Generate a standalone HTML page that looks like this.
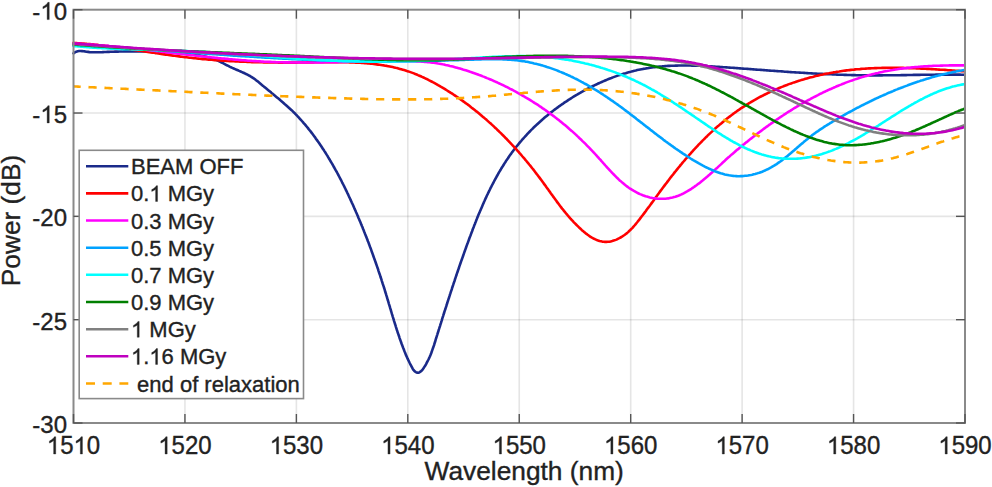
<!DOCTYPE html>
<html><head><meta charset="utf-8"><style>
html,body{margin:0;padding:0;background:#fff;}
body{width:992px;height:487px;overflow:hidden;}
svg{display:block;}
text{font-family:"Liberation Sans",sans-serif;fill:#222;stroke:#222;stroke-width:0.35px;}
.h{fill:none;stroke:none;}
.one{fill:#222;stroke:#222;stroke-width:0.35px;vector-effect:non-scaling-stroke;}
</style></head><body>
<svg width="992" height="487" viewBox="0 0 992 487">
<rect width="992" height="487" fill="#fff"/>
<g stroke="#262626" stroke-opacity="0.12" stroke-width="1.6"><line x1="184.94" y1="9.70" x2="184.94" y2="423.00"/><line x1="296.38" y1="9.70" x2="296.38" y2="423.00"/><line x1="407.81" y1="9.70" x2="407.81" y2="423.00"/><line x1="519.25" y1="9.70" x2="519.25" y2="423.00"/><line x1="630.69" y1="9.70" x2="630.69" y2="423.00"/><line x1="742.12" y1="9.70" x2="742.12" y2="423.00"/><line x1="853.56" y1="9.70" x2="853.56" y2="423.00"/><line x1="73.50" y1="113.03" x2="965.00" y2="113.03"/><line x1="73.50" y1="216.35" x2="965.00" y2="216.35"/><line x1="73.50" y1="319.68" x2="965.00" y2="319.68"/></g>
<g fill="none" stroke-width="2.6" stroke-linejoin="round" stroke-linecap="round">
<path d="M73.5,53.3L74.9,52.4L76.3,51.7L77.7,51.3L79.2,51.0L80.6,51.0L82.1,51.1L83.6,51.2L85.0,51.4L86.5,51.7L88.0,51.9L89.5,52.1L91.0,52.2L92.5,52.3L94.0,52.3L95.5,52.3L97.0,52.3L98.5,52.3L100.0,52.2L101.5,52.2L103.0,52.1L104.5,52.0L106.0,52.0L107.5,51.9L109.0,51.9L110.5,51.8L112.0,51.7L113.5,51.7L115.0,51.6L116.5,51.6L118.0,51.6L119.4,51.5L120.9,51.5L122.4,51.5L123.9,51.4L125.4,51.4L126.9,51.4L128.4,51.4L129.9,51.4L131.4,51.4L132.9,51.4L134.4,51.4L135.9,51.4L137.3,51.4L138.8,51.4L140.3,51.4L141.8,51.4L143.3,51.4L144.8,51.5L146.3,51.5L147.8,51.5L149.3,51.6L150.8,51.6L152.3,51.7L153.8,51.7L155.3,51.8L156.8,51.8L158.3,51.9L159.8,51.9L161.3,52.0L162.8,52.1L164.3,52.2L165.8,52.2L167.3,52.3L168.8,52.4L170.3,52.5L171.8,52.6L173.3,52.7L174.8,52.8L176.3,52.9L177.8,53.1L179.3,53.2L180.8,53.3L182.3,53.4L183.8,53.6L185.4,53.7L186.9,53.9L188.4,54.0L189.9,54.2L191.4,54.3L192.9,54.5L194.4,54.7L195.9,54.9L197.4,55.1L198.9,55.3L200.4,55.6L201.9,55.9L203.4,56.2L204.9,56.5L206.3,56.8L207.8,57.2L209.2,57.6L210.7,58.0L212.1,58.4L213.5,58.9L214.9,59.4L216.3,60.0L217.6,60.5L219.0,61.2L220.3,61.8L221.6,62.5L223.0,63.2L224.3,63.9L225.6,64.6L226.9,65.3L228.3,65.9L229.6,66.6L231.0,67.3L232.3,67.9L233.7,68.5L235.1,69.1L236.5,69.7L237.9,70.3L239.2,70.9L240.6,71.5L242.0,72.1L243.4,72.7L244.7,73.3L246.1,74.0L247.4,74.6L248.7,75.3L250.0,76.0L251.3,76.8L252.5,77.6L253.7,78.4L255.0,79.3L256.1,80.2L257.3,81.1L258.5,82.1L259.6,83.0L260.8,84.0L261.9,84.9L263.1,85.9L264.2,86.9L265.4,87.8L266.6,88.8L267.7,89.7L268.9,90.7L270.0,91.6L271.2,92.6L272.3,93.6L273.5,94.5L274.7,95.5L275.8,96.4L277.0,97.4L278.1,98.3L279.3,99.3L280.4,100.3L281.5,101.2L282.7,102.2L283.8,103.2L284.9,104.2L286.1,105.2L287.2,106.2L288.3,107.2L289.4,108.2L290.5,109.2L291.6,110.2L292.6,111.2L293.7,112.3L294.8,113.3L295.8,114.4L296.9,115.5L297.9,116.6L298.9,117.7L299.9,118.8L300.9,119.9L301.9,121.0L302.9,122.1L303.9,123.3L304.9,124.4L305.9,125.6L306.8,126.7L307.8,127.9L308.7,129.1L309.6,130.2L310.6,131.4L311.5,132.6L312.4,133.8L313.3,135.0L314.2,136.2L315.1,137.4L315.9,138.7L316.8,139.9L317.7,141.1L318.5,142.3L319.4,143.6L320.2,144.8L321.1,146.1L321.9,147.3L322.7,148.6L323.6,149.8L324.4,151.1L325.2,152.3L326.0,153.6L326.8,154.9L327.6,156.1L328.3,157.4L329.1,158.7L329.9,160.0L330.6,161.3L331.4,162.6L332.2,163.9L332.9,165.2L333.6,166.5L334.4,167.8L335.1,169.1L335.8,170.4L336.6,171.7L337.3,173.0L338.0,174.3L338.7,175.7L339.4,177.0L340.1,178.3L340.8,179.6L341.5,181.0L342.1,182.3L342.8,183.7L343.5,185.0L344.2,186.3L344.8,187.7L345.5,189.0L346.1,190.4L346.8,191.7L347.4,193.1L348.1,194.4L348.7,195.8L349.3,197.1L350.0,198.5L350.6,199.9L351.2,201.2L351.8,202.6L352.5,204.0L353.1,205.3L353.7,206.7L354.3,208.1L354.9,209.4L355.5,210.8L356.1,212.2L356.7,213.5L357.3,214.9L357.9,216.3L358.4,217.7L359.0,219.0L359.6,220.4L360.2,221.8L360.8,223.2L361.3,224.6L361.9,226.0L362.5,227.3L363.0,228.7L363.6,230.1L364.1,231.5L364.7,232.9L365.2,234.3L365.8,235.7L366.3,237.1L366.9,238.5L367.4,239.8L367.9,241.2L368.5,242.6L369.0,244.0L369.5,245.4L370.0,246.8L370.6,248.2L371.1,249.6L371.6,251.1L372.1,252.5L372.6,253.9L373.1,255.3L373.6,256.7L374.1,258.1L374.6,259.5L375.1,260.9L375.6,262.3L376.1,263.7L376.6,265.2L377.1,266.6L377.6,268.0L378.1,269.4L378.5,270.8L379.0,272.3L379.5,273.7L380.0,275.1L380.4,276.5L380.9,278.0L381.4,279.4L381.8,280.8L382.3,282.3L382.7,283.7L383.2,285.1L383.7,286.6L384.1,288.0L384.6,289.4L385.0,290.9L385.4,292.3L385.9,293.7L386.3,295.2L386.8,296.6L387.2,298.1L387.6,299.5L388.1,301.0L388.5,302.4L388.9,303.8L389.4,305.3L389.8,306.7L390.2,308.2L390.7,309.6L391.1,311.1L391.5,312.5L391.9,313.9L392.4,315.4L392.8,316.8L393.3,318.3L393.7,319.7L394.1,321.1L394.6,322.6L395.0,324.0L395.5,325.4L395.9,326.8L396.4,328.3L396.8,329.7L397.3,331.1L397.7,332.5L398.2,333.9L398.7,335.3L399.2,336.7L399.6,338.1L400.1,339.5L400.6,340.9L401.1,342.3L401.6,343.7L402.1,345.0L402.6,346.4L403.1,347.8L403.7,349.1L404.2,350.5L404.7,351.8L405.3,353.2L405.8,354.6L406.4,355.9L407.0,357.3L407.6,358.7L408.3,360.1L409.0,361.5L409.7,363.0L410.4,364.4L411.2,365.9L412.0,367.4L412.8,368.9L413.7,370.2L414.7,371.3L415.8,372.1L416.9,372.6L418.1,372.7L419.3,372.4L420.4,371.7L421.5,370.8L422.6,369.6L423.5,368.3L424.4,366.9L425.3,365.5L426.1,364.1L426.8,362.7L427.5,361.3L428.2,360.0L428.9,358.6L429.5,357.3L430.1,355.9L430.7,354.5L431.2,353.2L431.7,351.8L432.2,350.4L432.7,348.9L433.2,347.5L433.7,346.1L434.2,344.7L434.6,343.2L435.1,341.8L435.5,340.4L435.9,338.9L436.4,337.5L436.8,336.1L437.3,334.6L437.7,333.2L438.2,331.8L438.6,330.3L439.1,328.9L439.5,327.5L440.0,326.1L440.4,324.6L440.9,323.2L441.3,321.8L441.8,320.4L442.2,318.9L442.6,317.5L443.1,316.1L443.5,314.7L444.0,313.3L444.4,311.8L444.9,310.4L445.4,309.0L445.8,307.6L446.3,306.2L446.7,304.7L447.2,303.3L447.6,301.9L448.1,300.5L448.5,299.1L449.0,297.7L449.5,296.2L449.9,294.8L450.4,293.4L450.8,292.0L451.3,290.6L451.8,289.2L452.2,287.7L452.7,286.3L453.2,284.9L453.6,283.5L454.1,282.1L454.6,280.7L455.0,279.3L455.5,277.9L456.0,276.4L456.5,275.0L456.9,273.6L457.4,272.2L457.9,270.8L458.4,269.4L458.9,268.0L459.3,266.6L459.8,265.1L460.3,263.7L460.8,262.3L461.3,260.9L461.8,259.5L462.3,258.1L462.8,256.7L463.3,255.3L463.8,253.9L464.3,252.4L464.8,251.0L465.3,249.6L465.8,248.2L466.3,246.8L466.8,245.4L467.3,244.0L467.9,242.5L468.4,241.1L468.9,239.7L469.4,238.3L469.9,236.9L470.5,235.5L471.0,234.1L471.5,232.7L472.1,231.2L472.6,229.8L473.1,228.4L473.7,227.0L474.2,225.6L474.8,224.2L475.3,222.8L475.9,221.4L476.4,220.0L477.0,218.6L477.6,217.1L478.1,215.7L478.7,214.3L479.3,212.9L479.9,211.6L480.5,210.2L481.1,208.8L481.7,207.4L482.3,206.0L482.9,204.6L483.5,203.2L484.1,201.8L484.7,200.5L485.3,199.1L486.0,197.7L486.6,196.3L487.2,195.0L487.9,193.6L488.5,192.3L489.2,190.9L489.9,189.5L490.5,188.2L491.2,186.9L491.9,185.5L492.6,184.2L493.3,182.8L494.0,181.5L494.7,180.2L495.4,178.9L496.1,177.6L496.8,176.3L497.6,175.0L498.3,173.7L499.0,172.4L499.8,171.1L500.6,169.8L501.3,168.5L502.1,167.2L502.9,166.0L503.7,164.7L504.5,163.4L505.3,162.2L506.1,160.9L506.9,159.7L507.8,158.5L508.6,157.2L509.4,156.0L510.3,154.8L511.2,153.6L512.0,152.4L512.9,151.2L513.8,150.0L514.7,148.9L515.6,147.7L516.5,146.5L517.5,145.4L518.4,144.2L519.3,143.1L520.3,141.9L521.3,140.8L522.2,139.7L523.2,138.6L524.2,137.5L525.2,136.4L526.2,135.3L527.2,134.2L528.2,133.1L529.3,132.0L530.3,131.0L531.3,129.9L532.4,128.9L533.4,127.8L534.5,126.8L535.6,125.8L536.7,124.7L537.8,123.7L538.9,122.7L540.0,121.7L541.1,120.7L542.2,119.7L543.3,118.8L544.4,117.8L545.6,116.8L546.7,115.9L547.9,114.9L549.1,114.0L550.2,113.1L551.4,112.1L552.6,111.2L553.8,110.3L555.0,109.4L556.2,108.5L557.4,107.6L558.6,106.7L559.8,105.9L561.0,105.0L562.3,104.1L563.5,103.3L564.7,102.4L566.0,101.6L567.2,100.8L568.5,99.9L569.8,99.1L571.0,98.3L572.3,97.5L573.6,96.7L574.9,95.9L576.2,95.1L577.5,94.4L578.8,93.6L580.1,92.9L581.4,92.1L582.7,91.4L584.1,90.6L585.4,89.9L586.7,89.2L588.1,88.5L589.4,87.8L590.7,87.1L592.1,86.4L593.5,85.8L594.8,85.1L596.2,84.5L597.6,83.8L598.9,83.2L600.3,82.6L601.7,82.0L603.1,81.4L604.5,80.8L605.8,80.2L607.2,79.6L608.6,79.0L610.0,78.5L611.4,78.0L612.9,77.4L614.3,76.9L615.7,76.4L617.1,75.9L618.5,75.4L620.0,74.9L621.4,74.5L622.8,74.0L624.2,73.6L625.7,73.2L627.1,72.7L628.6,72.3L630.0,71.9L631.4,71.6L632.9,71.2L634.3,70.8L635.8,70.5L637.2,70.1L638.7,69.8L640.2,69.5L641.6,69.2L643.1,68.9L644.5,68.7L646.0,68.4L647.5,68.2L648.9,67.9L650.4,67.7L651.9,67.5L653.3,67.3L654.8,67.1L656.3,67.0L657.8,66.8L659.2,66.6L660.7,66.5L662.2,66.4L663.7,66.2L665.2,66.1L666.6,66.0L668.1,65.9L669.6,65.9L671.1,65.8L672.6,65.7L674.1,65.7L675.6,65.6L677.1,65.6L678.6,65.5L680.0,65.5L681.5,65.5L683.0,65.5L684.5,65.5L686.0,65.5L687.5,65.5L689.0,65.5L690.5,65.5L692.0,65.6L693.5,65.6L695.0,65.6L696.5,65.7L698.0,65.7L699.5,65.8L701.0,65.9L702.5,65.9L704.0,66.0L705.5,66.1L707.0,66.1L708.5,66.2L710.0,66.3L711.5,66.4L713.0,66.5L714.5,66.6L716.0,66.7L717.5,66.8L719.0,66.9L720.5,67.0L722.0,67.1L723.5,67.2L725.0,67.3L726.5,67.4L728.0,67.5L729.5,67.6L731.0,67.7L732.5,67.8L734.0,67.9L735.5,68.0L737.0,68.1L738.5,68.3L740.0,68.4L741.5,68.5L743.0,68.6L744.5,68.7L746.0,68.8L747.5,68.9L749.0,69.0L750.4,69.1L751.9,69.3L753.4,69.4L754.9,69.5L756.4,69.6L757.9,69.7L759.4,69.8L760.9,69.9L762.4,70.0L763.9,70.1L765.4,70.3L766.9,70.4L768.4,70.5L769.9,70.6L771.4,70.7L772.9,70.8L774.4,70.9L775.8,71.0L777.3,71.1L778.8,71.2L780.3,71.3L781.8,71.4L783.3,71.5L784.8,71.7L786.3,71.8L787.8,71.9L789.3,72.0L790.8,72.1L792.3,72.2L793.8,72.3L795.2,72.4L796.7,72.5L798.2,72.5L799.7,72.6L801.2,72.7L802.7,72.8L804.2,72.9L805.7,73.0L807.2,73.1L808.7,73.2L810.2,73.3L811.7,73.4L813.2,73.5L814.6,73.5L816.1,73.6L817.6,73.7L819.1,73.8L820.6,73.9L822.1,73.9L823.6,74.0L825.1,74.1L826.6,74.1L828.1,74.2L829.6,74.3L831.1,74.3L832.6,74.4L834.1,74.5L835.6,74.5L837.0,74.6L838.5,74.7L840.0,74.7L841.5,74.8L843.0,74.8L844.5,74.9L846.0,74.9L847.5,75.0L849.0,75.0L850.5,75.0L852.0,75.1L853.5,75.1L855.0,75.1L856.5,75.2L858.0,75.2L859.5,75.2L861.0,75.3L862.5,75.3L864.0,75.3L865.5,75.3L867.0,75.3L868.5,75.3L870.0,75.4L871.5,75.4L873.0,75.4L874.5,75.4L876.0,75.4L877.5,75.4L879.0,75.4L880.5,75.4L882.0,75.4L883.5,75.3L885.0,75.3L886.5,75.3L888.0,75.3L889.5,75.3L891.0,75.3L892.5,75.3L894.0,75.2L895.5,75.2L897.0,75.2L898.5,75.2L900.0,75.2L901.5,75.1L903.1,75.1L904.6,75.1L906.1,75.1L907.6,75.0L909.1,75.0L910.6,75.0L912.1,75.0L913.6,74.9L915.1,74.9L916.6,74.9L918.1,74.9L919.6,74.9L921.1,74.8L922.6,74.8L924.1,74.8L925.6,74.8L927.1,74.7L928.6,74.7L930.1,74.7L931.6,74.7L933.1,74.7L934.6,74.7L936.1,74.6L937.6,74.6L939.1,74.6L940.6,74.6L942.1,74.6L943.6,74.6L945.1,74.6L946.6,74.6L948.1,74.6L949.6,74.6L951.1,74.6L952.6,74.6L954.1,74.6L955.5,74.6L957.0,74.6L958.5,74.6L960.0,74.6L961.5,74.7L963.0,74.7L964.5,74.7" stroke="#1a2a8a"/>
<path d="M73.5,42.9L75.0,43.0L76.5,43.1L77.9,43.2L79.4,43.3L80.9,43.4L82.4,43.5L83.9,43.6L85.4,43.7L86.8,43.9L88.3,44.0L89.8,44.1L91.3,44.3L92.8,44.4L94.3,44.6L95.7,44.7L97.2,44.9L98.7,45.1L100.2,45.2L101.7,45.4L103.2,45.6L104.7,45.8L106.2,46.0L107.6,46.1L109.1,46.3L110.6,46.5L112.1,46.7L113.6,46.9L115.1,47.1L116.6,47.3L118.0,47.5L119.5,47.7L121.0,47.9L122.5,48.2L124.0,48.4L125.5,48.6L127.0,48.8L128.5,49.0L130.0,49.2L131.4,49.5L132.9,49.7L134.4,49.9L135.9,50.1L137.4,50.4L138.9,50.6L140.4,50.8L141.9,51.0L143.4,51.3L144.8,51.5L146.3,51.7L147.8,51.9L149.3,52.2L150.8,52.4L152.3,52.6L153.8,52.8L155.3,53.1L156.7,53.3L158.2,53.5L159.7,53.7L161.2,53.9L162.7,54.2L164.2,54.4L165.7,54.6L167.2,54.8L168.6,55.0L170.1,55.2L171.6,55.4L173.1,55.6L174.6,55.8L176.1,56.0L177.6,56.2L179.1,56.4L180.5,56.6L182.0,56.8L183.5,57.0L185.0,57.2L186.5,57.3L188.0,57.5L189.4,57.7L190.9,57.8L192.4,58.0L193.9,58.2L195.4,58.3L196.9,58.5L198.3,58.6L199.8,58.8L201.3,58.9L202.8,59.1L204.3,59.2L205.8,59.3L207.2,59.5L208.7,59.6L210.2,59.7L211.7,59.8L213.2,59.9L214.7,60.1L216.1,60.2L217.6,60.3L219.1,60.4L220.6,60.5L222.1,60.6L223.6,60.7L225.0,60.8L226.5,60.9L228.0,61.0L229.5,61.1L231.0,61.1L232.5,61.2L233.9,61.3L235.4,61.4L236.9,61.5L238.4,61.5L239.9,61.6L241.4,61.7L242.9,61.7L244.3,61.8L245.8,61.8L247.3,61.9L248.8,62.0L250.3,62.0L251.8,62.1L253.3,62.1L254.8,62.1L256.3,62.2L257.7,62.2L259.2,62.3L260.7,62.3L262.2,62.3L263.7,62.4L265.2,62.4L266.7,62.4L268.2,62.4L269.7,62.5L271.2,62.5L272.7,62.5L274.2,62.5L275.7,62.5L277.2,62.5L278.7,62.6L280.2,62.6L281.7,62.6L283.2,62.6L284.7,62.6L286.2,62.6L287.7,62.6L289.2,62.6L290.7,62.6L292.2,62.6L293.7,62.6L295.2,62.6L296.7,62.6L298.2,62.5L299.7,62.5L301.2,62.5L302.8,62.5L304.3,62.5L305.8,62.5L307.3,62.4L308.8,62.4L310.3,62.4L311.8,62.4L313.4,62.4L314.9,62.3L316.4,62.3L317.9,62.3L319.4,62.3L320.9,62.2L322.5,62.2L324.0,62.2L325.5,62.2L327.0,62.2L328.5,62.2L330.1,62.2L331.6,62.1L333.1,62.1L334.6,62.1L336.1,62.1L337.7,62.1L339.2,62.2L340.7,62.2L342.2,62.2L343.7,62.2L345.2,62.2L346.7,62.3L348.2,62.3L349.8,62.4L351.3,62.4L352.8,62.5L354.3,62.5L355.8,62.6L357.3,62.7L358.8,62.7L360.3,62.8L361.8,62.9L363.3,63.0L364.8,63.1L366.3,63.3L367.8,63.4L369.2,63.5L370.7,63.7L372.2,63.8L373.7,64.0L375.2,64.2L376.6,64.4L378.1,64.6L379.6,64.8L381.1,65.0L382.5,65.2L384.0,65.4L385.4,65.7L386.9,65.9L388.3,66.2L389.8,66.5L391.2,66.8L392.7,67.1L394.1,67.4L395.6,67.8L397.0,68.1L398.4,68.5L399.9,68.9L401.3,69.3L402.7,69.7L404.1,70.1L405.5,70.5L406.9,71.0L408.3,71.4L409.7,71.9L411.1,72.4L412.5,72.9L413.9,73.4L415.3,74.0L416.7,74.5L418.0,75.1L419.4,75.7L420.8,76.3L422.1,76.9L423.5,77.5L424.8,78.1L426.2,78.8L427.5,79.4L428.8,80.1L430.2,80.8L431.5,81.5L432.8,82.2L434.2,82.9L435.5,83.6L436.8,84.3L438.1,85.1L439.4,85.8L440.7,86.6L442.0,87.3L443.3,88.1L444.6,88.9L445.8,89.7L447.1,90.5L448.4,91.3L449.7,92.1L450.9,92.9L452.2,93.7L453.4,94.5L454.7,95.4L455.9,96.2L457.2,97.0L458.4,97.9L459.7,98.7L460.9,99.6L462.1,100.5L463.3,101.4L464.5,102.2L465.7,103.1L467.0,104.0L468.2,104.9L469.4,105.8L470.5,106.7L471.7,107.7L472.9,108.6L474.1,109.5L475.3,110.5L476.4,111.4L477.6,112.3L478.8,113.3L479.9,114.2L481.1,115.2L482.2,116.2L483.4,117.2L484.5,118.1L485.6,119.1L486.8,120.1L487.9,121.1L489.0,122.1L490.1,123.1L491.3,124.1L492.4,125.1L493.5,126.1L494.6,127.2L495.7,128.2L496.7,129.2L497.8,130.3L498.9,131.3L500.0,132.4L501.1,133.4L502.1,134.5L503.2,135.5L504.3,136.6L505.3,137.7L506.4,138.7L507.4,139.8L508.4,140.9L509.5,142.0L510.5,143.1L511.5,144.2L512.6,145.3L513.6,146.4L514.6,147.5L515.6,148.6L516.6,149.7L517.6,150.8L518.6,151.9L519.6,153.1L520.6,154.2L521.5,155.3L522.5,156.5L523.5,157.6L524.5,158.7L525.4,159.9L526.4,161.0L527.3,162.2L528.3,163.3L529.2,164.5L530.2,165.6L531.1,166.8L532.0,168.0L533.0,169.1L533.9,170.3L534.8,171.5L535.7,172.7L536.6,173.9L537.5,175.0L538.4,176.2L539.3,177.4L540.2,178.6L541.1,179.8L542.0,181.0L542.9,182.2L543.7,183.4L544.6,184.6L545.5,185.8L546.3,187.0L547.2,188.2L548.1,189.4L548.9,190.6L549.8,191.8L550.6,193.0L551.5,194.2L552.4,195.4L553.2,196.6L554.1,197.8L555.0,199.0L555.9,200.2L556.7,201.4L557.6,202.6L558.5,203.8L559.4,205.0L560.3,206.2L561.2,207.4L562.1,208.6L563.1,209.7L564.0,210.9L565.0,212.1L565.9,213.2L566.9,214.4L567.8,215.5L568.8,216.7L569.8,217.8L570.8,219.0L571.9,220.1L572.9,221.2L573.9,222.3L575.0,223.4L576.1,224.5L577.2,225.6L578.3,226.7L579.4,227.8L580.5,228.8L581.7,229.9L582.9,230.9L584.1,232.0L585.3,232.9L586.5,233.9L587.7,234.8L589.0,235.7L590.2,236.6L591.5,237.4L592.8,238.1L594.1,238.8L595.4,239.4L596.8,240.0L598.1,240.5L599.5,241.0L600.8,241.3L602.2,241.6L603.6,241.8L605.0,241.9L606.5,241.9L607.9,241.8L609.3,241.7L610.8,241.4L612.2,241.1L613.7,240.6L615.1,240.1L616.5,239.6L617.9,238.9L619.3,238.2L620.6,237.5L622.0,236.7L623.3,235.8L624.5,235.0L625.8,234.0L627.0,233.1L628.1,232.1L629.2,231.0L630.3,230.0L631.4,228.9L632.5,227.8L633.5,226.6L634.5,225.5L635.5,224.3L636.4,223.2L637.4,222.0L638.3,220.8L639.3,219.6L640.2,218.4L641.1,217.2L642.0,216.0L643.0,214.8L643.9,213.6L644.8,212.4L645.7,211.2L646.5,210.0L647.4,208.8L648.3,207.6L649.2,206.5L650.1,205.3L650.9,204.1L651.8,202.9L652.7,201.7L653.6,200.5L654.4,199.3L655.3,198.1L656.2,196.9L657.0,195.7L657.9,194.5L658.8,193.3L659.6,192.1L660.5,190.9L661.4,189.7L662.3,188.5L663.2,187.3L664.1,186.1L665.0,184.9L665.9,183.7L666.8,182.6L667.7,181.4L668.6,180.2L669.5,179.0L670.4,177.8L671.3,176.6L672.2,175.5L673.2,174.3L674.1,173.1L675.0,171.9L676.0,170.8L676.9,169.6L677.9,168.4L678.8,167.3L679.8,166.1L680.7,164.9L681.7,163.8L682.6,162.6L683.6,161.5L684.6,160.4L685.5,159.2L686.5,158.1L687.5,156.9L688.5,155.8L689.5,154.7L690.5,153.6L691.5,152.4L692.5,151.3L693.5,150.2L694.5,149.1L695.5,148.0L696.6,146.9L697.6,145.8L698.6,144.7L699.7,143.6L700.7,142.6L701.8,141.5L702.8,140.4L703.9,139.4L704.9,138.3L706.0,137.2L707.1,136.2L708.1,135.2L709.2,134.1L710.3,133.1L711.4,132.1L712.5,131.1L713.6,130.0L714.7,129.0L715.8,128.0L716.9,127.1L718.1,126.1L719.2,125.1L720.3,124.1L721.5,123.2L722.6,122.2L723.8,121.2L724.9,120.3L726.1,119.4L727.2,118.4L728.4,117.5L729.6,116.6L730.8,115.7L732.0,114.8L733.1,113.9L734.4,113.0L735.6,112.2L736.8,111.3L738.0,110.4L739.2,109.6L740.4,108.7L741.7,107.9L742.9,107.1L744.2,106.3L745.4,105.5L746.7,104.7L748.0,103.9L749.2,103.1L750.5,102.4L751.8,101.6L753.1,100.8L754.4,100.1L755.7,99.4L757.0,98.6L758.3,97.9L759.6,97.2L760.9,96.5L762.3,95.8L763.6,95.2L764.9,94.5L766.3,93.8L767.6,93.2L769.0,92.5L770.3,91.9L771.7,91.3L773.1,90.7L774.4,90.1L775.8,89.5L777.2,88.9L778.6,88.3L779.9,87.7L781.3,87.1L782.7,86.6L784.1,86.0L785.5,85.5L786.9,85.0L788.3,84.4L789.7,83.9L791.2,83.4L792.6,82.9L794.0,82.4L795.4,82.0L796.8,81.5L798.3,81.0L799.7,80.6L801.1,80.1L802.6,79.7L804.0,79.3L805.5,78.8L806.9,78.4L808.4,78.0L809.8,77.6L811.3,77.2L812.7,76.9L814.2,76.5L815.6,76.1L817.1,75.8L818.6,75.4L820.0,75.1L821.5,74.8L823.0,74.5L824.4,74.1L825.9,73.8L827.4,73.5L828.8,73.3L830.3,73.0L831.8,72.7L833.3,72.4L834.7,72.2L836.2,71.9L837.7,71.7L839.2,71.5L840.7,71.2L842.1,71.0L843.6,70.8L845.1,70.6L846.6,70.4L848.1,70.3L849.5,70.1L851.0,69.9L852.5,69.7L854.0,69.6L855.5,69.4L856.9,69.3L858.4,69.2L859.9,69.1L861.4,68.9L862.9,68.8L864.4,68.7L865.9,68.6L867.3,68.5L868.8,68.4L870.3,68.4L871.8,68.3L873.3,68.2L874.8,68.1L876.3,68.1L877.8,68.0L879.2,68.0L880.7,68.0L882.2,67.9L883.7,67.9L885.2,67.9L886.7,67.8L888.2,67.8L889.7,67.8L891.2,67.8L892.7,67.8L894.2,67.8L895.7,67.8L897.1,67.8L898.6,67.9L900.1,67.9L901.6,67.9L903.1,67.9L904.6,68.0L906.1,68.0L907.6,68.0L909.1,68.1L910.6,68.1L912.1,68.2L913.6,68.2L915.1,68.3L916.6,68.4L918.1,68.4L919.6,68.5L921.1,68.6L922.6,68.6L924.1,68.7L925.5,68.8L927.0,68.9L928.5,68.9L930.0,69.0L931.5,69.1L933.0,69.2L934.5,69.3L936.0,69.4L937.5,69.5L939.0,69.6L940.5,69.7L942.0,69.8L943.5,69.8L945.0,69.9L946.5,70.0L948.0,70.2L949.5,70.3L951.0,70.4L952.5,70.5L954.0,70.6L955.5,70.7L957.0,70.8L958.5,70.9L960.0,71.0L961.5,71.1L963.0,71.2L964.5,71.3" stroke="#ff0000"/>
<path d="M73.5,43.5L75.0,43.6L76.5,43.7L78.0,43.7L79.5,43.8L81.0,43.9L82.5,44.0L84.0,44.1L85.5,44.2L87.0,44.3L88.5,44.4L90.0,44.5L91.5,44.6L92.9,44.7L94.4,44.8L95.9,44.9L97.4,45.1L98.9,45.2L100.4,45.3L101.9,45.4L103.4,45.6L104.9,45.7L106.4,45.8L107.9,45.9L109.4,46.1L110.9,46.2L112.4,46.4L113.9,46.5L115.3,46.6L116.8,46.8L118.3,46.9L119.8,47.1L121.3,47.2L122.8,47.4L124.3,47.5L125.8,47.7L127.3,47.8L128.8,48.0L130.3,48.2L131.8,48.3L133.3,48.5L134.7,48.6L136.2,48.8L137.7,49.0L139.2,49.1L140.7,49.3L142.2,49.5L143.7,49.6L145.2,49.8L146.7,50.0L148.2,50.1L149.7,50.3L151.1,50.5L152.6,50.7L154.1,50.8L155.6,51.0L157.1,51.2L158.6,51.3L160.1,51.5L161.6,51.7L163.1,51.9L164.6,52.0L166.0,52.2L167.5,52.4L169.0,52.6L170.5,52.7L172.0,52.9L173.5,53.1L175.0,53.3L176.5,53.4L178.0,53.6L179.5,53.8L181.0,54.0L182.4,54.1L183.9,54.3L185.4,54.5L186.9,54.7L188.4,54.8L189.9,55.0L191.4,55.2L192.9,55.3L194.4,55.5L195.9,55.7L197.3,55.8L198.8,56.0L200.3,56.2L201.8,56.3L203.3,56.5L204.8,56.7L206.3,56.8L207.8,57.0L209.3,57.1L210.8,57.3L212.3,57.5L213.8,57.6L215.2,57.8L216.7,57.9L218.2,58.1L219.7,58.2L221.2,58.4L222.7,58.5L224.2,58.6L225.7,58.8L227.2,58.9L228.7,59.1L230.2,59.2L231.7,59.3L233.1,59.5L234.6,59.6L236.1,59.7L237.6,59.8L239.1,60.0L240.6,60.1L242.1,60.2L243.6,60.3L245.1,60.4L246.6,60.5L248.1,60.7L249.6,60.8L251.1,60.9L252.6,61.0L254.1,61.1L255.6,61.1L257.1,61.2L258.5,61.3L260.0,61.4L261.5,61.5L263.0,61.6L264.5,61.7L266.0,61.7L267.5,61.8L269.0,61.9L270.5,61.9L272.0,62.0L273.5,62.0L275.0,62.1L276.5,62.2L278.0,62.2L279.5,62.2L281.0,62.3L282.5,62.3L284.0,62.4L285.5,62.4L287.0,62.4L288.5,62.4L290.0,62.5L291.5,62.5L293.0,62.5L294.5,62.5L296.0,62.5L297.5,62.5L299.0,62.5L300.5,62.5L302.0,62.5L303.5,62.5L305.0,62.5L306.5,62.5L308.0,62.5L309.5,62.5L311.0,62.5L312.5,62.5L314.0,62.5L315.5,62.5L317.0,62.4L318.5,62.4L320.0,62.4L321.5,62.4L323.0,62.4L324.5,62.3L326.0,62.3L327.5,62.3L329.0,62.3L330.5,62.2L332.0,62.2L333.5,62.2L335.0,62.1L336.5,62.1L338.0,62.1L339.5,62.0L341.0,62.0L342.5,62.0L344.0,61.9L345.5,61.9L347.0,61.9L348.5,61.8L350.0,61.8L351.5,61.8L353.0,61.7L354.5,61.7L356.0,61.7L357.5,61.6L359.0,61.6L360.5,61.6L362.0,61.5L363.5,61.5L365.0,61.5L366.5,61.4L368.0,61.4L369.5,61.4L371.0,61.3L372.5,61.3L374.0,61.3L375.5,61.3L377.0,61.2L378.5,61.2L380.0,61.2L381.5,61.2L383.0,61.1L384.5,61.1L386.0,61.1L387.5,61.1L389.0,61.1L390.5,61.1L392.0,61.1L393.5,61.1L395.0,61.1L396.5,61.1L398.0,61.1L399.5,61.1L401.0,61.1L402.5,61.1L404.0,61.1L405.5,61.1L407.0,61.1L408.5,61.1L410.0,61.2L411.4,61.2L412.9,61.2L414.4,61.3L415.9,61.3L417.4,61.4L418.9,61.5L420.4,61.5L421.9,61.6L423.4,61.7L424.8,61.9L426.3,62.0L427.8,62.1L429.3,62.3L430.8,62.4L432.3,62.6L433.7,62.8L435.2,63.0L436.7,63.2L438.2,63.5L439.6,63.7L441.1,64.0L442.6,64.3L444.0,64.5L445.5,64.9L447.0,65.2L448.4,65.5L449.9,65.9L451.3,66.2L452.8,66.6L454.2,67.0L455.7,67.4L457.1,67.8L458.6,68.2L460.0,68.6L461.5,69.0L462.9,69.5L464.4,69.9L465.8,70.3L467.2,70.8L468.7,71.3L470.1,71.8L471.5,72.2L472.9,72.7L474.4,73.2L475.8,73.7L477.2,74.2L478.6,74.8L480.0,75.3L481.4,75.8L482.8,76.4L484.2,76.9L485.6,77.5L487.0,78.1L488.4,78.6L489.8,79.2L491.2,79.8L492.6,80.4L493.9,81.0L495.3,81.6L496.7,82.2L498.1,82.9L499.4,83.5L500.8,84.1L502.2,84.8L503.5,85.4L504.9,86.1L506.2,86.8L507.6,87.4L508.9,88.1L510.2,88.8L511.6,89.5L512.9,90.2L514.2,90.9L515.6,91.6L516.9,92.3L518.2,93.1L519.5,93.8L520.8,94.5L522.1,95.3L523.4,96.0L524.7,96.8L526.0,97.6L527.3,98.3L528.6,99.1L529.9,99.9L531.1,100.7L532.4,101.5L533.7,102.3L534.9,103.1L536.2,103.9L537.5,104.7L538.7,105.5L539.9,106.4L541.2,107.2L542.4,108.1L543.6,108.9L544.9,109.8L546.1,110.6L547.3,111.5L548.5,112.4L549.7,113.2L550.9,114.1L552.1,115.0L553.3,115.9L554.5,116.8L555.7,117.7L556.8,118.6L558.0,119.5L559.2,120.4L560.3,121.4L561.5,122.3L562.6,123.2L563.8,124.2L564.9,125.1L566.1,126.1L567.2,127.0L568.3,128.0L569.4,129.0L570.5,129.9L571.7,130.9L572.8,131.9L573.9,132.9L575.0,133.9L576.1,134.9L577.1,135.9L578.2,136.9L579.3,138.0L580.4,139.0L581.5,140.0L582.5,141.1L583.6,142.1L584.7,143.2L585.7,144.2L586.8,145.3L587.8,146.3L588.9,147.4L589.9,148.5L591.0,149.6L592.0,150.7L593.1,151.8L594.1,152.9L595.1,154.0L596.2,155.2L597.2,156.3L598.2,157.4L599.2,158.6L600.3,159.7L601.3,160.9L602.3,162.0L603.3,163.2L604.4,164.3L605.4,165.5L606.4,166.6L607.5,167.8L608.5,168.9L609.6,170.1L610.6,171.2L611.7,172.3L612.7,173.4L613.8,174.5L614.9,175.6L615.9,176.7L617.0,177.8L618.1,178.8L619.2,179.9L620.4,180.9L621.5,181.9L622.6,182.9L623.8,183.8L624.9,184.8L626.1,185.7L627.3,186.6L628.5,187.5L629.7,188.3L631.0,189.1L632.2,189.9L633.5,190.7L634.8,191.4L636.1,192.1L637.4,192.8L638.7,193.5L640.0,194.1L641.4,194.6L642.8,195.2L644.2,195.7L645.5,196.2L646.9,196.6L648.4,197.0L649.8,197.4L651.2,197.7L652.6,198.0L654.0,198.2L655.5,198.4L656.9,198.6L658.4,198.7L659.8,198.8L661.2,198.8L662.7,198.8L664.1,198.8L665.5,198.7L667.0,198.5L668.4,198.4L669.8,198.1L671.2,197.8L672.6,197.5L674.0,197.1L675.4,196.7L676.8,196.2L678.2,195.7L679.5,195.2L680.9,194.6L682.2,194.0L683.6,193.3L684.9,192.6L686.2,191.9L687.5,191.2L688.8,190.4L690.1,189.6L691.4,188.8L692.7,187.9L694.0,187.0L695.2,186.1L696.5,185.2L697.7,184.3L699.0,183.4L700.2,182.4L701.4,181.4L702.6,180.5L703.8,179.5L705.0,178.5L706.2,177.5L707.4,176.5L708.5,175.5L709.7,174.5L710.8,173.5L712.0,172.5L713.1,171.4L714.2,170.4L715.3,169.4L716.4,168.4L717.6,167.4L718.7,166.4L719.8,165.4L720.9,164.4L722.0,163.3L723.1,162.3L724.2,161.3L725.2,160.3L726.3,159.3L727.4,158.3L728.5,157.3L729.6,156.4L730.7,155.4L731.8,154.4L733.0,153.4L734.1,152.5L735.2,151.5L736.3,150.5L737.4,149.6L738.6,148.7L739.7,147.7L740.9,146.8L742.0,145.8L743.1,144.9L744.3,144.0L745.4,143.0L746.6,142.1L747.8,141.2L748.9,140.2L750.1,139.3L751.3,138.4L752.4,137.5L753.6,136.6L754.8,135.6L756.0,134.7L757.2,133.8L758.4,132.9L759.6,132.0L760.8,131.1L762.0,130.2L763.2,129.3L764.4,128.4L765.6,127.5L766.8,126.6L768.0,125.8L769.2,124.9L770.5,124.0L771.7,123.1L772.9,122.3L774.2,121.4L775.4,120.6L776.6,119.7L777.9,118.9L779.1,118.0L780.4,117.2L781.6,116.3L782.9,115.5L784.1,114.7L785.4,113.9L786.6,113.0L787.9,112.2L789.2,111.4L790.5,110.6L791.7,109.8L793.0,109.0L794.3,108.2L795.6,107.5L796.9,106.7L798.2,105.9L799.4,105.2L800.7,104.4L802.0,103.7L803.3,102.9L804.6,102.2L806.0,101.4L807.3,100.7L808.6,100.0L809.9,99.3L811.2,98.5L812.5,97.8L813.9,97.1L815.2,96.5L816.5,95.8L817.9,95.1L819.2,94.4L820.5,93.7L821.9,93.1L823.2,92.4L824.6,91.8L825.9,91.1L827.3,90.5L828.6,89.9L830.0,89.3L831.4,88.7L832.7,88.1L834.1,87.5L835.5,86.9L836.8,86.3L838.2,85.7L839.6,85.1L841.0,84.6L842.4,84.0L843.8,83.5L845.2,82.9L846.5,82.4L847.9,81.9L849.3,81.4L850.7,80.9L852.2,80.4L853.6,79.9L855.0,79.4L856.4,78.9L857.8,78.5L859.2,78.0L860.7,77.6L862.1,77.1L863.5,76.7L864.9,76.3L866.4,75.9L867.8,75.5L869.3,75.1L870.7,74.7L872.1,74.3L873.6,73.9L875.0,73.6L876.5,73.2L878.0,72.9L879.4,72.5L880.9,72.2L882.3,71.9L883.8,71.6L885.3,71.3L886.8,71.0L888.2,70.7L889.7,70.5L891.2,70.2L892.7,70.0L894.2,69.7L895.6,69.5L897.1,69.3L898.6,69.0L900.1,68.8L901.6,68.6L903.1,68.4L904.6,68.2L906.1,68.1L907.6,67.9L909.1,67.7L910.6,67.6L912.1,67.4L913.6,67.3L915.1,67.1L916.6,67.0L918.1,66.9L919.6,66.7L921.1,66.6L922.6,66.5L924.1,66.4L925.6,66.3L927.1,66.2L928.6,66.1L930.1,66.0L931.6,66.0L933.1,65.9L934.6,65.8L936.2,65.8L937.7,65.7L939.2,65.7L940.7,65.6L942.2,65.6L943.7,65.5L945.2,65.5L946.7,65.5L948.1,65.5L949.6,65.4L951.1,65.4L952.6,65.4L954.1,65.4L955.6,65.4L957.1,65.4L958.6,65.4L960.1,65.4L961.5,65.4L963.0,65.4L964.5,65.4" stroke="#ff00ff"/>
<path d="M73.5,45.5L75.0,45.6L76.5,45.6L78.0,45.7L79.5,45.8L81.0,45.8L82.5,45.9L84.0,45.9L85.5,46.0L87.0,46.1L88.5,46.2L90.0,46.2L91.5,46.3L93.0,46.4L94.4,46.4L95.9,46.5L97.4,46.6L98.9,46.7L100.4,46.7L101.9,46.8L103.4,46.9L104.9,47.0L106.4,47.1L107.9,47.1L109.4,47.2L110.9,47.3L112.4,47.4L113.9,47.5L115.4,47.6L116.9,47.7L118.4,47.7L119.9,47.8L121.4,47.9L122.9,48.0L124.4,48.1L125.9,48.2L127.4,48.3L128.9,48.4L130.4,48.5L131.9,48.6L133.4,48.6L134.9,48.7L136.4,48.8L137.8,48.9L139.3,49.0L140.8,49.1L142.3,49.2L143.8,49.3L145.3,49.4L146.8,49.5L148.3,49.6L149.8,49.7L151.3,49.8L152.8,49.9L154.3,50.0L155.8,50.1L157.3,50.2L158.8,50.3L160.3,50.4L161.8,50.5L163.3,50.6L164.8,50.7L166.3,50.8L167.8,50.9L169.3,51.0L170.8,51.2L172.3,51.3L173.8,51.4L175.3,51.5L176.8,51.6L178.3,51.7L179.8,51.8L181.3,51.9L182.7,52.0L184.2,52.1L185.7,52.2L187.2,52.3L188.7,52.4L190.2,52.5L191.7,52.6L193.2,52.7L194.7,52.8L196.2,52.9L197.7,53.1L199.2,53.2L200.7,53.3L202.2,53.4L203.7,53.5L205.2,53.6L206.7,53.7L208.2,53.8L209.7,53.9L211.2,54.0L212.7,54.1L214.2,54.2L215.7,54.3L217.2,54.4L218.7,54.5L220.2,54.6L221.7,54.7L223.2,54.8L224.7,54.9L226.2,55.0L227.7,55.1L229.2,55.3L230.7,55.4L232.1,55.5L233.6,55.6L235.1,55.7L236.6,55.8L238.1,55.9L239.6,56.0L241.1,56.1L242.6,56.2L244.1,56.3L245.6,56.4L247.1,56.5L248.6,56.5L250.1,56.6L251.6,56.7L253.1,56.8L254.6,56.9L256.1,57.0L257.6,57.1L259.1,57.2L260.6,57.3L262.1,57.4L263.6,57.5L265.1,57.6L266.6,57.7L268.1,57.8L269.6,57.8L271.1,57.9L272.6,58.0L274.1,58.1L275.6,58.2L277.1,58.3L278.6,58.4L280.0,58.4L281.5,58.5L283.0,58.6L284.5,58.7L286.0,58.8L287.5,58.8L289.0,58.9L290.5,59.0L292.0,59.1L293.5,59.1L295.0,59.2L296.5,59.3L298.0,59.4L299.5,59.4L301.0,59.5L302.5,59.6L304.0,59.6L305.5,59.7L307.0,59.8L308.5,59.8L310.0,59.9L311.5,60.0L313.0,60.0L314.5,60.1L316.0,60.1L317.5,60.2L319.0,60.3L320.5,60.3L322.0,60.4L323.5,60.4L325.0,60.5L326.5,60.5L328.0,60.6L329.4,60.6L330.9,60.7L332.4,60.7L333.9,60.7L335.4,60.8L336.9,60.8L338.4,60.9L339.9,60.9L341.4,60.9L342.9,61.0L344.4,61.0L345.9,61.0L347.4,61.1L348.9,61.1L350.4,61.1L351.9,61.2L353.4,61.2L354.9,61.2L356.4,61.2L357.9,61.2L359.4,61.3L360.9,61.3L362.4,61.3L363.9,61.3L365.4,61.3L366.9,61.3L368.4,61.4L369.9,61.4L371.4,61.4L372.9,61.4L374.4,61.4L375.9,61.4L377.3,61.4L378.8,61.4L380.3,61.4L381.8,61.4L383.3,61.4L384.8,61.4L386.3,61.4L387.8,61.4L389.3,61.4L390.8,61.4L392.3,61.3L393.8,61.3L395.3,61.3L396.8,61.3L398.3,61.3L399.8,61.3L401.3,61.3L402.8,61.3L404.3,61.2L405.8,61.2L407.3,61.2L408.8,61.2L410.3,61.2L411.8,61.1L413.3,61.1L414.8,61.1L416.3,61.1L417.8,61.0L419.3,61.0L420.8,61.0L422.3,61.0L423.8,60.9L425.3,60.9L426.8,60.9L428.3,60.8L429.8,60.8L431.3,60.8L432.8,60.7L434.3,60.7L435.8,60.7L437.3,60.6L438.8,60.6L440.3,60.6L441.8,60.5L443.3,60.5L444.8,60.4L446.3,60.4L447.8,60.4L449.3,60.3L450.8,60.3L452.3,60.2L453.8,60.2L455.3,60.1L456.8,60.1L458.3,60.1L459.8,60.0L461.3,60.0L462.8,59.9L464.3,59.9L465.8,59.8L467.3,59.8L468.8,59.7L470.3,59.7L471.8,59.6L473.3,59.6L474.8,59.5L476.3,59.5L477.8,59.5L479.3,59.4L480.8,59.4L482.3,59.3L483.8,59.3L485.3,59.3L486.8,59.2L488.3,59.2L489.8,59.2L491.3,59.2L492.8,59.2L494.3,59.2L495.8,59.2L497.3,59.2L498.8,59.2L500.3,59.3L501.8,59.3L503.3,59.4L504.8,59.4L506.3,59.5L507.8,59.6L509.2,59.7L510.7,59.8L512.2,59.9L513.7,60.0L515.2,60.2L516.6,60.3L518.1,60.5L519.6,60.7L521.0,60.9L522.5,61.1L524.0,61.3L525.4,61.6L526.9,61.8L528.3,62.1L529.8,62.4L531.3,62.7L532.7,63.0L534.1,63.4L535.6,63.7L537.0,64.1L538.5,64.4L539.9,64.8L541.3,65.2L542.8,65.6L544.2,66.1L545.6,66.5L547.0,67.0L548.5,67.4L549.9,67.9L551.3,68.4L552.7,68.9L554.1,69.4L555.5,69.9L556.9,70.4L558.3,71.0L559.7,71.6L561.1,72.1L562.5,72.7L563.9,73.3L565.2,73.9L566.6,74.5L568.0,75.1L569.4,75.7L570.7,76.4L572.1,77.0L573.4,77.7L574.8,78.4L576.2,79.0L577.5,79.7L578.8,80.4L580.2,81.1L581.5,81.8L582.9,82.5L584.2,83.3L585.5,84.0L586.8,84.7L588.1,85.5L589.5,86.3L590.8,87.0L592.1,87.8L593.4,88.6L594.7,89.4L596.0,90.1L597.3,90.9L598.5,91.7L599.8,92.5L601.1,93.4L602.4,94.2L603.6,95.0L604.9,95.8L606.1,96.7L607.4,97.5L608.6,98.4L609.9,99.2L611.1,100.1L612.4,100.9L613.6,101.8L614.8,102.7L616.0,103.5L617.3,104.4L618.5,105.3L619.7,106.2L620.9,107.0L622.1,107.9L623.3,108.8L624.5,109.7L625.7,110.6L626.9,111.5L628.1,112.4L629.3,113.3L630.4,114.2L631.6,115.1L632.8,116.0L634.0,116.9L635.2,117.8L636.3,118.8L637.5,119.7L638.7,120.6L639.9,121.5L641.0,122.4L642.2,123.3L643.4,124.2L644.6,125.2L645.7,126.1L646.9,127.0L648.1,127.9L649.3,128.8L650.4,129.7L651.6,130.6L652.8,131.5L654.0,132.5L655.1,133.4L656.3,134.3L657.5,135.2L658.7,136.1L659.9,137.0L661.1,137.9L662.3,138.8L663.4,139.7L664.6,140.6L665.8,141.5L667.0,142.3L668.2,143.2L669.5,144.1L670.7,145.0L671.9,145.9L673.1,146.7L674.3,147.6L675.5,148.5L676.8,149.3L678.0,150.2L679.3,151.0L680.5,151.9L681.7,152.7L683.0,153.6L684.3,154.4L685.5,155.2L686.8,156.0L688.1,156.8L689.4,157.7L690.6,158.5L691.9,159.3L693.2,160.1L694.5,160.8L695.9,161.6L697.2,162.4L698.5,163.2L699.8,163.9L701.2,164.7L702.5,165.4L703.9,166.1L705.2,166.8L706.6,167.5L708.0,168.1L709.3,168.8L710.7,169.4L712.1,170.0L713.5,170.6L714.9,171.2L716.3,171.7L717.7,172.2L719.1,172.7L720.5,173.2L721.9,173.6L723.4,174.0L724.8,174.4L726.2,174.7L727.6,175.0L729.1,175.3L730.5,175.5L732.0,175.7L733.4,175.9L734.9,176.0L736.3,176.1L737.8,176.2L739.3,176.2L740.7,176.1L742.2,176.1L743.6,176.0L745.1,175.8L746.5,175.7L748.0,175.5L749.4,175.2L750.9,175.0L752.3,174.7L753.7,174.3L755.2,174.0L756.6,173.6L758.0,173.1L759.4,172.7L760.8,172.2L762.2,171.7L763.5,171.1L764.9,170.5L766.2,169.9L767.6,169.3L768.9,168.6L770.2,167.9L771.5,167.2L772.8,166.4L774.1,165.7L775.3,164.9L776.6,164.1L777.8,163.2L779.0,162.4L780.3,161.5L781.5,160.6L782.7,159.7L783.9,158.8L785.1,157.8L786.3,156.9L787.5,155.9L788.6,155.0L789.8,154.0L791.0,153.0L792.1,152.0L793.3,151.0L794.5,150.0L795.6,149.0L796.8,148.0L797.9,147.0L799.1,146.0L800.2,145.0L801.4,144.0L802.6,143.1L803.7,142.1L804.9,141.1L806.0,140.1L807.2,139.2L808.4,138.2L809.6,137.3L810.7,136.4L811.9,135.4L813.1,134.5L814.3,133.7L815.5,132.8L816.7,131.9L818.0,131.1L819.2,130.2L820.4,129.4L821.6,128.6L822.9,127.8L824.1,126.9L825.3,126.1L826.6,125.4L827.8,124.6L829.1,123.8L830.3,123.0L831.6,122.3L832.9,121.5L834.1,120.8L835.4,120.0L836.7,119.3L838.0,118.5L839.2,117.8L840.5,117.0L841.8,116.3L843.1,115.6L844.4,114.9L845.7,114.1L847.0,113.4L848.3,112.7L849.6,112.0L850.9,111.3L852.3,110.6L853.6,109.8L854.9,109.1L856.2,108.4L857.5,107.7L858.9,107.1L860.2,106.4L861.5,105.7L862.9,105.0L864.2,104.3L865.6,103.6L866.9,103.0L868.3,102.3L869.6,101.7L871.0,101.0L872.3,100.3L873.7,99.7L875.0,99.0L876.4,98.4L877.8,97.8L879.1,97.1L880.5,96.5L881.9,95.9L883.3,95.3L884.6,94.7L886.0,94.1L887.4,93.4L888.8,92.8L890.2,92.3L891.6,91.7L893.0,91.1L894.3,90.5L895.7,89.9L897.1,89.4L898.5,88.8L899.9,88.3L901.3,87.7L902.7,87.2L904.2,86.6L905.6,86.1L907.0,85.6L908.4,85.0L909.8,84.5L911.2,84.0L912.6,83.5L914.0,83.0L915.5,82.5L916.9,82.0L918.3,81.6L919.7,81.1L921.2,80.6L922.6,80.2L924.0,79.7L925.5,79.3L926.9,78.8L928.3,78.4L929.8,78.0L931.2,77.5L932.6,77.1L934.1,76.7L935.5,76.3L936.9,75.9L938.4,75.6L939.8,75.2L941.3,74.8L942.7,74.5L944.2,74.1L945.6,73.8L947.1,73.4L948.5,73.1L950.0,72.8L951.4,72.5L952.9,72.1L954.3,71.8L955.8,71.6L957.2,71.3L958.7,71.0L960.1,70.7L961.6,70.5L963.0,70.2L964.5,70.0" stroke="#00a2ff"/>
<path d="M73.5,46.0L75.0,46.1L76.5,46.3L78.0,46.4L79.5,46.5L81.0,46.7L82.5,46.8L84.0,46.9L85.5,47.0L87.0,47.1L88.5,47.3L90.0,47.4L91.5,47.5L93.0,47.6L94.5,47.7L96.0,47.8L97.5,47.9L99.0,47.9L100.5,48.0L102.0,48.1L103.5,48.2L104.9,48.3L106.4,48.3L107.9,48.4L109.4,48.5L110.9,48.6L112.4,48.6L113.9,48.7L115.4,48.8L116.9,48.8L118.4,48.9L119.9,48.9L121.4,49.0L122.9,49.1L124.4,49.1L125.9,49.2L127.4,49.2L128.9,49.3L130.4,49.3L131.9,49.4L133.4,49.4L134.9,49.4L136.4,49.5L137.9,49.5L139.4,49.6L140.9,49.6L142.4,49.7L143.9,49.7L145.4,49.8L146.9,49.8L148.4,49.8L149.9,49.9L151.4,49.9L152.9,50.0L154.4,50.0L155.8,50.0L157.3,50.1L158.8,50.1L160.3,50.2L161.8,50.2L163.3,50.3L164.8,50.3L166.3,50.3L167.8,50.4L169.3,50.4L170.8,50.5L172.3,50.5L173.8,50.6L175.3,50.6L176.8,50.7L178.3,50.7L179.8,50.8L181.3,50.8L182.8,50.9L184.3,51.0L185.8,51.0L187.3,51.1L188.8,51.2L190.3,51.2L191.8,51.3L193.3,51.4L194.8,51.4L196.3,51.5L197.8,51.6L199.3,51.7L200.8,51.7L202.3,51.8L203.8,51.9L205.3,52.0L206.8,52.1L208.2,52.2L209.7,52.3L211.2,52.3L212.7,52.4L214.2,52.5L215.7,52.6L217.2,52.7L218.7,52.8L220.2,52.9L221.7,53.0L223.2,53.1L224.7,53.2L226.2,53.3L227.7,53.4L229.2,53.5L230.7,53.6L232.2,53.8L233.7,53.9L235.2,54.0L236.7,54.1L238.2,54.2L239.7,54.3L241.2,54.4L242.7,54.5L244.2,54.6L245.7,54.7L247.2,54.9L248.7,55.0L250.2,55.1L251.7,55.2L253.2,55.3L254.7,55.4L256.2,55.5L257.7,55.7L259.2,55.8L260.7,55.9L262.2,56.0L263.7,56.1L265.2,56.2L266.6,56.4L268.1,56.5L269.6,56.6L271.1,56.7L272.6,56.8L274.1,56.9L275.6,57.0L277.1,57.2L278.6,57.3L280.1,57.4L281.6,57.5L283.1,57.6L284.6,57.7L286.1,57.8L287.6,57.9L289.1,58.0L290.6,58.1L292.1,58.3L293.6,58.4L295.1,58.5L296.6,58.6L298.1,58.7L299.6,58.8L301.1,58.9L302.6,59.0L304.1,59.1L305.6,59.2L307.1,59.3L308.6,59.4L310.1,59.4L311.6,59.5L313.1,59.6L314.6,59.7L316.0,59.8L317.5,59.9L319.0,60.0L320.5,60.1L322.0,60.1L323.5,60.2L325.0,60.3L326.5,60.4L328.0,60.4L329.5,60.5L331.0,60.6L332.5,60.6L334.0,60.7L335.5,60.8L337.0,60.8L338.5,60.9L340.0,60.9L341.5,61.0L343.0,61.1L344.5,61.1L346.0,61.1L347.5,61.2L349.0,61.2L350.5,61.3L352.0,61.3L353.5,61.3L354.9,61.4L356.4,61.4L357.9,61.4L359.4,61.5L360.9,61.5L362.4,61.5L363.9,61.5L365.4,61.5L366.9,61.5L368.4,61.6L369.9,61.6L371.4,61.6L372.9,61.6L374.4,61.6L375.9,61.6L377.4,61.6L378.9,61.6L380.4,61.6L381.9,61.5L383.4,61.5L384.9,61.5L386.3,61.5L387.8,61.5L389.3,61.5L390.8,61.5L392.3,61.4L393.8,61.4L395.3,61.4L396.8,61.4L398.3,61.3L399.8,61.3L401.3,61.3L402.8,61.2L404.3,61.2L405.8,61.1L407.3,61.1L408.8,61.1L410.3,61.0L411.8,61.0L413.3,60.9L414.8,60.9L416.3,60.8L417.8,60.8L419.3,60.7L420.8,60.7L422.2,60.6L423.7,60.6L425.2,60.5L426.7,60.4L428.2,60.4L429.7,60.3L431.2,60.2L432.7,60.2L434.2,60.1L435.7,60.0L437.2,60.0L438.7,59.9L440.2,59.8L441.7,59.8L443.2,59.7L444.7,59.6L446.2,59.5L447.7,59.5L449.2,59.4L450.7,59.3L452.2,59.2L453.7,59.2L455.2,59.1L456.7,59.0L458.2,58.9L459.7,58.8L461.2,58.7L462.7,58.7L464.2,58.6L465.7,58.5L467.2,58.4L468.7,58.3L470.2,58.2L471.7,58.1L473.2,58.0L474.7,58.0L476.2,57.9L477.7,57.8L479.2,57.7L480.7,57.6L482.2,57.5L483.7,57.4L485.2,57.3L486.8,57.3L488.3,57.2L489.8,57.1L491.3,57.0L492.8,56.9L494.3,56.9L495.8,56.8L497.3,56.7L498.8,56.6L500.3,56.6L501.8,56.5L503.3,56.5L504.8,56.4L506.3,56.4L507.8,56.3L509.3,56.3L510.8,56.2L512.3,56.2L513.8,56.2L515.3,56.2L516.8,56.1L518.3,56.1L519.8,56.1L521.3,56.1L522.8,56.1L524.3,56.1L525.8,56.2L527.3,56.2L528.8,56.2L530.3,56.3L531.8,56.3L533.3,56.4L534.8,56.4L536.3,56.5L537.8,56.6L539.3,56.6L540.8,56.7L542.3,56.8L543.8,56.9L545.3,57.1L546.8,57.2L548.2,57.3L549.7,57.5L551.2,57.6L552.7,57.8L554.2,57.9L555.7,58.1L557.2,58.3L558.7,58.5L560.2,58.7L561.6,58.9L563.1,59.1L564.6,59.4L566.1,59.6L567.6,59.8L569.0,60.1L570.5,60.3L572.0,60.6L573.5,60.9L574.9,61.2L576.4,61.5L577.9,61.8L579.3,62.1L580.8,62.4L582.3,62.7L583.7,63.0L585.2,63.4L586.6,63.7L588.1,64.1L589.5,64.5L591.0,64.8L592.4,65.2L593.9,65.6L595.3,66.0L596.7,66.4L598.2,66.8L599.6,67.2L601.0,67.7L602.5,68.1L603.9,68.6L605.3,69.0L606.7,69.5L608.2,70.0L609.6,70.4L611.0,70.9L612.4,71.4L613.8,71.9L615.2,72.4L616.6,73.0L618.0,73.5L619.4,74.0L620.8,74.6L622.1,75.1L623.5,75.7L624.9,76.2L626.3,76.8L627.6,77.4L629.0,78.0L630.4,78.6L631.7,79.2L633.1,79.8L634.4,80.4L635.8,81.1L637.1,81.7L638.5,82.4L639.8,83.0L641.1,83.7L642.5,84.4L643.8,85.0L645.1,85.7L646.4,86.4L647.7,87.1L649.0,87.8L650.3,88.5L651.6,89.3L652.9,90.0L654.2,90.7L655.5,91.5L656.8,92.2L658.1,93.0L659.3,93.7L660.6,94.5L661.9,95.3L663.2,96.1L664.4,96.8L665.7,97.6L667.0,98.4L668.2,99.2L669.5,100.0L670.8,100.8L672.0,101.6L673.3,102.5L674.5,103.3L675.8,104.1L677.0,104.9L678.3,105.8L679.6,106.6L680.8,107.4L682.1,108.3L683.3,109.1L684.6,110.0L685.8,110.8L687.1,111.7L688.3,112.5L689.6,113.4L690.8,114.2L692.1,115.1L693.4,115.9L694.6,116.8L695.9,117.7L697.1,118.5L698.4,119.4L699.7,120.3L700.9,121.1L702.2,122.0L703.5,122.9L704.7,123.7L706.0,124.6L707.3,125.5L708.5,126.3L709.8,127.2L711.1,128.0L712.4,128.9L713.7,129.7L714.9,130.6L716.2,131.4L717.5,132.3L718.8,133.1L720.1,133.9L721.4,134.7L722.7,135.6L724.0,136.4L725.3,137.2L726.6,138.0L727.9,138.7L729.2,139.5L730.6,140.3L731.9,141.0L733.2,141.8L734.5,142.5L735.8,143.2L737.2,143.9L738.5,144.6L739.8,145.3L741.2,146.0L742.5,146.7L743.9,147.3L745.2,148.0L746.6,148.6L747.9,149.2L749.3,149.8L750.6,150.4L752.0,150.9L753.4,151.5L754.7,152.0L756.1,152.5L757.5,153.0L758.9,153.5L760.3,153.9L761.7,154.4L763.1,154.8L764.5,155.2L765.9,155.6L767.3,155.9L768.7,156.3L770.1,156.6L771.5,156.9L772.9,157.2L774.4,157.4L775.8,157.7L777.2,157.9L778.7,158.1L780.1,158.2L781.5,158.4L783.0,158.5L784.4,158.6L785.9,158.7L787.3,158.8L788.8,158.8L790.2,158.8L791.7,158.8L793.1,158.8L794.6,158.7L796.0,158.7L797.5,158.6L799.0,158.5L800.4,158.4L801.9,158.2L803.3,158.0L804.8,157.9L806.2,157.6L807.7,157.4L809.1,157.2L810.5,156.9L812.0,156.6L813.4,156.3L814.9,155.9L816.3,155.6L817.7,155.2L819.1,154.8L820.6,154.4L822.0,154.0L823.4,153.5L824.8,153.1L826.2,152.6L827.6,152.1L829.1,151.6L830.5,151.1L831.8,150.6L833.2,150.0L834.6,149.4L836.0,148.9L837.4,148.3L838.8,147.7L840.1,147.0L841.5,146.4L842.9,145.8L844.2,145.1L845.6,144.5L846.9,143.8L848.3,143.1L849.6,142.4L850.9,141.7L852.3,141.0L853.6,140.3L854.9,139.6L856.3,138.8L857.6,138.1L858.9,137.3L860.2,136.6L861.5,135.8L862.8,135.1L864.1,134.3L865.4,133.5L866.7,132.7L868.0,131.9L869.3,131.1L870.6,130.3L871.9,129.5L873.2,128.7L874.5,127.9L875.8,127.1L877.1,126.3L878.4,125.5L879.7,124.6L880.9,123.8L882.2,123.0L883.5,122.2L884.8,121.3L886.1,120.5L887.4,119.7L888.7,118.9L889.9,118.1L891.2,117.2L892.5,116.4L893.8,115.6L895.1,114.8L896.4,114.0L897.7,113.2L898.9,112.3L900.2,111.5L901.5,110.7L902.8,109.9L904.1,109.2L905.4,108.4L906.7,107.6L908.0,106.8L909.3,106.0L910.6,105.3L911.9,104.5L913.2,103.8L914.5,103.0L915.8,102.3L917.2,101.6L918.5,100.9L919.8,100.2L921.1,99.5L922.5,98.8L923.8,98.1L925.1,97.4L926.5,96.8L927.8,96.1L929.2,95.5L930.5,94.8L931.9,94.2L933.2,93.6L934.6,93.0L936.0,92.5L937.3,91.9L938.7,91.3L940.1,90.8L941.5,90.3L942.9,89.8L944.3,89.3L945.7,88.8L947.1,88.3L948.5,87.9L949.9,87.5L951.4,87.0L952.8,86.6L954.2,86.3L955.7,85.9L957.1,85.6L958.6,85.2L960.1,84.9L961.5,84.6L963.0,84.4L964.5,84.1" stroke="#00ffff"/>
<path d="M73.5,44.5L75.0,44.6L76.5,44.7L78.0,44.9L79.5,45.0L81.0,45.1L82.5,45.2L84.0,45.3L85.5,45.4L87.0,45.5L88.5,45.7L90.0,45.8L91.5,45.9L92.9,46.0L94.4,46.1L95.9,46.2L97.4,46.3L98.9,46.4L100.4,46.5L101.9,46.6L103.4,46.7L104.9,46.8L106.4,46.9L107.9,47.0L109.4,47.1L110.9,47.2L112.4,47.3L113.9,47.4L115.4,47.5L116.9,47.6L118.4,47.7L119.9,47.8L121.4,47.9L122.9,47.9L124.3,48.0L125.8,48.1L127.3,48.2L128.8,48.3L130.3,48.4L131.8,48.5L133.3,48.5L134.8,48.6L136.3,48.7L137.8,48.8L139.3,48.9L140.8,49.0L142.3,49.0L143.8,49.1L145.3,49.2L146.8,49.3L148.3,49.4L149.8,49.4L151.2,49.5L152.7,49.6L154.2,49.7L155.7,49.7L157.2,49.8L158.7,49.9L160.2,50.0L161.7,50.0L163.2,50.1L164.7,50.2L166.2,50.2L167.7,50.3L169.2,50.4L170.7,50.4L172.2,50.5L173.7,50.6L175.2,50.7L176.7,50.7L178.1,50.8L179.6,50.9L181.1,50.9L182.6,51.0L184.1,51.1L185.6,51.1L187.1,51.2L188.6,51.2L190.1,51.3L191.6,51.4L193.1,51.4L194.6,51.5L196.1,51.6L197.6,51.6L199.1,51.7L200.6,51.8L202.1,51.8L203.6,51.9L205.0,51.9L206.5,52.0L208.0,52.1L209.5,52.1L211.0,52.2L212.5,52.2L214.0,52.3L215.5,52.4L217.0,52.4L218.5,52.5L220.0,52.6L221.5,52.6L223.0,52.7L224.5,52.7L226.0,52.8L227.5,52.9L229.0,52.9L230.5,53.0L232.0,53.0L233.5,53.1L234.9,53.2L236.4,53.2L237.9,53.3L239.4,53.3L240.9,53.4L242.4,53.5L243.9,53.5L245.4,53.6L246.9,53.6L248.4,53.7L249.9,53.8L251.4,53.8L252.9,53.9L254.4,53.9L255.9,54.0L257.4,54.1L258.9,54.1L260.4,54.2L261.9,54.3L263.4,54.3L264.9,54.4L266.4,54.4L267.9,54.5L269.4,54.6L270.9,54.6L272.4,54.7L273.9,54.8L275.4,54.8L276.9,54.9L278.3,55.0L279.8,55.0L281.3,55.1L282.8,55.2L284.3,55.2L285.8,55.3L287.3,55.4L288.8,55.4L290.3,55.5L291.8,55.6L293.3,55.6L294.8,55.7L296.3,55.8L297.8,55.9L299.3,55.9L300.8,56.0L302.3,56.1L303.8,56.1L305.3,56.2L306.8,56.3L308.3,56.4L309.8,56.4L311.3,56.5L312.8,56.6L314.3,56.7L315.8,56.7L317.3,56.8L318.8,56.9L320.3,57.0L321.8,57.0L323.3,57.1L324.8,57.2L326.3,57.3L327.8,57.3L329.3,57.4L330.8,57.5L332.3,57.6L333.8,57.6L335.3,57.7L336.8,57.8L338.3,57.9L339.8,57.9L341.3,58.0L342.8,58.1L344.3,58.2L345.8,58.2L347.3,58.3L348.8,58.4L350.3,58.4L351.8,58.5L353.3,58.6L354.8,58.6L356.3,58.7L357.8,58.8L359.3,58.8L360.8,58.9L362.3,59.0L363.8,59.0L365.3,59.1L366.8,59.1L368.3,59.2L369.8,59.3L371.3,59.3L372.8,59.4L374.3,59.4L375.8,59.5L377.3,59.5L378.8,59.6L380.3,59.6L381.8,59.7L383.3,59.7L384.8,59.8L386.3,59.8L387.8,59.9L389.3,59.9L390.8,59.9L392.3,60.0L393.8,60.0L395.3,60.0L396.8,60.1L398.3,60.1L399.8,60.1L401.3,60.1L402.8,60.2L404.3,60.2L405.7,60.2L407.2,60.2L408.7,60.2L410.2,60.3L411.7,60.3L413.2,60.3L414.7,60.3L416.2,60.3L417.7,60.3L419.2,60.3L420.7,60.3L422.2,60.3L423.7,60.3L425.2,60.3L426.6,60.2L428.1,60.2L429.6,60.2L431.1,60.2L432.6,60.2L434.1,60.1L435.6,60.1L437.1,60.1L438.6,60.1L440.0,60.0L441.5,60.0L443.0,59.9L444.5,59.9L446.0,59.8L447.5,59.8L449.0,59.7L450.5,59.7L451.9,59.6L453.4,59.6L454.9,59.5L456.4,59.4L457.9,59.4L459.4,59.3L460.9,59.2L462.3,59.2L463.8,59.1L465.3,59.0L466.8,59.0L468.3,58.9L469.8,58.8L471.3,58.7L472.7,58.7L474.2,58.6L475.7,58.5L477.2,58.4L478.7,58.3L480.2,58.3L481.7,58.2L483.2,58.1L484.6,58.0L486.1,57.9L487.6,57.9L489.1,57.8L490.6,57.7L492.1,57.6L493.6,57.5L495.1,57.5L496.6,57.4L498.1,57.3L499.6,57.2L501.1,57.2L502.6,57.1L504.0,57.0L505.5,56.9L507.0,56.9L508.5,56.8L510.0,56.7L511.5,56.7L513.0,56.6L514.5,56.5L516.0,56.5L517.6,56.4L519.1,56.4L520.6,56.3L522.1,56.3L523.6,56.2L525.1,56.2L526.6,56.1L528.1,56.1L529.6,56.0L531.1,56.0L532.6,56.0L534.1,55.9L535.6,55.9L537.1,55.9L538.7,55.8L540.2,55.8L541.7,55.8L543.2,55.8L544.7,55.8L546.2,55.8L547.7,55.8L549.2,55.7L550.8,55.7L552.3,55.7L553.8,55.8L555.3,55.8L556.8,55.8L558.3,55.8L559.8,55.8L561.3,55.8L562.8,55.8L564.4,55.9L565.9,55.9L567.4,55.9L568.9,56.0L570.4,56.0L571.9,56.1L573.4,56.1L574.9,56.2L576.4,56.2L577.9,56.3L579.4,56.4L581.0,56.4L582.5,56.5L584.0,56.6L585.5,56.7L587.0,56.8L588.5,56.8L590.0,56.9L591.5,57.0L593.0,57.1L594.5,57.3L596.0,57.4L597.5,57.5L599.0,57.6L600.5,57.7L602.0,57.9L603.5,58.0L605.0,58.2L606.5,58.3L608.0,58.5L609.4,58.6L610.9,58.8L612.4,59.0L613.9,59.1L615.4,59.3L616.9,59.5L618.4,59.7L619.8,59.9L621.3,60.1L622.8,60.3L624.3,60.5L625.8,60.7L627.2,61.0L628.7,61.2L630.2,61.4L631.7,61.7L633.1,61.9L634.6,62.2L636.1,62.4L637.5,62.7L639.0,63.0L640.4,63.3L641.9,63.6L643.4,63.9L644.8,64.2L646.3,64.5L647.7,64.8L649.2,65.1L650.6,65.4L652.1,65.8L653.5,66.1L655.0,66.4L656.4,66.8L657.8,67.2L659.3,67.5L660.7,67.9L662.1,68.3L663.6,68.7L665.0,69.1L666.4,69.5L667.8,69.9L669.2,70.3L670.7,70.7L672.1,71.2L673.5,71.6L674.9,72.0L676.3,72.5L677.7,73.0L679.1,73.4L680.5,73.9L681.9,74.4L683.3,74.9L684.7,75.4L686.1,75.9L687.5,76.4L688.9,77.0L690.2,77.5L691.6,78.0L693.0,78.6L694.4,79.1L695.7,79.7L697.1,80.3L698.5,80.9L699.8,81.5L701.2,82.1L702.5,82.7L703.9,83.3L705.2,83.9L706.6,84.5L707.9,85.2L709.3,85.8L710.6,86.4L712.0,87.1L713.3,87.8L714.7,88.4L716.0,89.1L717.3,89.8L718.7,90.4L720.0,91.1L721.3,91.8L722.7,92.5L724.0,93.2L725.3,93.9L726.7,94.6L728.0,95.3L729.3,96.0L730.6,96.7L732.0,97.4L733.3,98.2L734.6,98.9L735.9,99.6L737.3,100.3L738.6,101.1L739.9,101.8L741.2,102.5L742.6,103.3L743.9,104.0L745.2,104.8L746.5,105.5L747.9,106.2L749.2,107.0L750.5,107.7L751.8,108.5L753.2,109.2L754.5,110.0L755.8,110.7L757.1,111.5L758.5,112.2L759.8,112.9L761.1,113.7L762.5,114.4L763.8,115.2L765.2,115.9L766.5,116.7L767.8,117.4L769.2,118.1L770.5,118.9L771.9,119.6L773.2,120.3L774.6,121.0L775.9,121.8L777.3,122.5L778.6,123.2L780.0,123.9L781.3,124.6L782.7,125.3L784.1,126.0L785.4,126.7L786.8,127.4L788.2,128.0L789.5,128.7L790.9,129.4L792.3,130.0L793.6,130.7L795.0,131.3L796.4,131.9L797.8,132.5L799.2,133.1L800.5,133.7L801.9,134.3L803.3,134.9L804.7,135.4L806.1,136.0L807.5,136.5L808.9,137.0L810.3,137.6L811.7,138.1L813.1,138.5L814.5,139.0L815.9,139.5L817.3,139.9L818.7,140.3L820.1,140.7L821.5,141.1L822.9,141.5L824.3,141.9L825.7,142.2L827.2,142.6L828.6,142.9L830.0,143.2L831.4,143.4L832.9,143.7L834.3,143.9L835.7,144.1L837.1,144.3L838.6,144.5L840.0,144.7L841.4,144.8L842.9,144.9L844.3,145.0L845.8,145.1L847.2,145.2L848.7,145.2L850.1,145.2L851.6,145.2L853.0,145.2L854.5,145.1L855.9,145.1L857.4,145.0L858.8,144.9L860.3,144.8L861.7,144.7L863.2,144.5L864.6,144.4L866.1,144.2L867.5,144.0L869.0,143.8L870.4,143.6L871.9,143.3L873.4,143.1L874.8,142.8L876.3,142.5L877.7,142.2L879.2,141.9L880.6,141.6L882.1,141.3L883.5,140.9L885.0,140.6L886.4,140.2L887.9,139.8L889.3,139.4L890.8,139.0L892.2,138.5L893.7,138.1L895.1,137.7L896.6,137.2L898.0,136.7L899.5,136.3L900.9,135.8L902.3,135.3L903.8,134.8L905.2,134.2L906.6,133.7L908.1,133.2L909.5,132.6L910.9,132.1L912.3,131.5L913.7,130.9L915.2,130.4L916.6,129.8L918.0,129.2L919.4,128.6L920.8,128.0L922.2,127.4L923.6,126.8L925.0,126.2L926.4,125.5L927.8,124.9L929.2,124.3L930.6,123.7L931.9,123.0L933.3,122.4L934.7,121.8L936.1,121.1L937.5,120.5L938.8,119.9L940.2,119.2L941.6,118.6L942.9,118.0L944.3,117.3L945.7,116.7L947.0,116.1L948.4,115.5L949.7,114.9L951.1,114.3L952.4,113.7L953.8,113.1L955.1,112.5L956.5,111.9L957.8,111.4L959.1,110.8L960.5,110.3L961.8,109.7L963.2,109.2L964.5,108.7" stroke="#007f00"/>
<path d="M73.5,44.0L75.0,44.1L76.5,44.2L78.0,44.3L79.5,44.4L81.0,44.6L82.5,44.7L83.9,44.8L85.4,44.9L86.9,45.0L88.4,45.1L89.9,45.2L91.4,45.3L92.9,45.4L94.4,45.5L95.9,45.6L97.4,45.8L98.9,45.9L100.4,46.0L101.9,46.1L103.4,46.2L104.8,46.3L106.3,46.4L107.8,46.5L109.3,46.6L110.8,46.7L112.3,46.8L113.8,46.9L115.3,47.0L116.8,47.1L118.3,47.2L119.8,47.3L121.3,47.4L122.8,47.5L124.3,47.6L125.8,47.7L127.3,47.8L128.8,47.9L130.2,48.0L131.7,48.1L133.2,48.2L134.7,48.3L136.2,48.4L137.7,48.5L139.2,48.6L140.7,48.7L142.2,48.8L143.7,48.9L145.2,49.0L146.7,49.1L148.2,49.2L149.7,49.3L151.2,49.4L152.7,49.5L154.2,49.6L155.7,49.7L157.2,49.8L158.7,49.9L160.2,50.0L161.6,50.1L163.1,50.2L164.6,50.2L166.1,50.3L167.6,50.4L169.1,50.5L170.6,50.6L172.1,50.7L173.6,50.8L175.1,50.9L176.6,51.0L178.1,51.1L179.6,51.1L181.1,51.2L182.6,51.3L184.1,51.4L185.6,51.5L187.1,51.6L188.6,51.7L190.1,51.8L191.6,51.8L193.1,51.9L194.6,52.0L196.1,52.1L197.6,52.2L199.1,52.3L200.6,52.3L202.1,52.4L203.5,52.5L205.0,52.6L206.5,52.7L208.0,52.8L209.5,52.8L211.0,52.9L212.5,53.0L214.0,53.1L215.5,53.2L217.0,53.2L218.5,53.3L220.0,53.4L221.5,53.5L223.0,53.5L224.5,53.6L226.0,53.7L227.5,53.8L229.0,53.8L230.5,53.9L232.0,54.0L233.5,54.1L235.0,54.1L236.5,54.2L238.0,54.3L239.5,54.4L241.0,54.4L242.5,54.5L244.0,54.6L245.5,54.6L247.0,54.7L248.5,54.8L250.0,54.8L251.5,54.9L253.0,55.0L254.5,55.0L256.0,55.1L257.5,55.2L259.0,55.2L260.5,55.3L262.0,55.4L263.5,55.4L265.0,55.5L266.4,55.6L267.9,55.6L269.4,55.7L270.9,55.7L272.4,55.8L273.9,55.9L275.4,55.9L276.9,56.0L278.4,56.0L279.9,56.1L281.4,56.2L282.9,56.2L284.4,56.3L285.9,56.3L287.4,56.4L288.9,56.4L290.4,56.5L291.9,56.6L293.4,56.6L294.9,56.7L296.4,56.7L297.9,56.8L299.4,56.8L300.9,56.9L302.4,56.9L303.9,57.0L305.4,57.0L306.9,57.1L308.4,57.1L309.9,57.2L311.4,57.2L312.9,57.3L314.4,57.3L315.9,57.4L317.4,57.4L318.9,57.5L320.4,57.5L321.9,57.5L323.4,57.6L324.9,57.6L326.4,57.7L327.9,57.7L329.4,57.8L330.9,57.8L332.4,57.8L333.9,57.9L335.4,57.9L336.9,57.9L338.4,58.0L339.9,58.0L341.4,58.1L342.9,58.1L344.4,58.1L345.9,58.2L347.4,58.2L348.9,58.2L350.3,58.3L351.8,58.3L353.3,58.3L354.8,58.4L356.3,58.4L357.8,58.4L359.3,58.5L360.8,58.5L362.3,58.5L363.8,58.5L365.3,58.6L366.8,58.6L368.3,58.6L369.8,58.6L371.3,58.7L372.8,58.7L374.3,58.7L375.8,58.7L377.3,58.8L378.8,58.8L380.3,58.8L381.8,58.8L383.3,58.8L384.8,58.9L386.3,58.9L387.8,58.9L389.3,58.9L390.8,58.9L392.3,58.9L393.8,59.0L395.3,59.0L396.8,59.0L398.3,59.0L399.8,59.0L401.3,59.0L402.8,59.0L404.3,59.1L405.8,59.1L407.3,59.1L408.8,59.1L410.3,59.1L411.8,59.1L413.2,59.1L414.7,59.1L416.2,59.1L417.7,59.1L419.2,59.1L420.7,59.1L422.2,59.1L423.7,59.1L425.2,59.1L426.7,59.1L428.2,59.1L429.7,59.1L431.2,59.1L432.7,59.1L434.2,59.1L435.7,59.1L437.2,59.1L438.7,59.1L440.2,59.1L441.7,59.1L443.2,59.1L444.7,59.1L446.2,59.1L447.7,59.1L449.2,59.1L450.7,59.1L452.2,59.1L453.7,59.0L455.2,59.0L456.6,59.0L458.1,59.0L459.6,59.0L461.1,59.0L462.6,59.0L464.1,58.9L465.6,58.9L467.1,58.9L468.6,58.9L470.1,58.9L471.6,58.8L473.1,58.8L474.6,58.8L476.1,58.8L477.6,58.8L479.1,58.7L480.6,58.7L482.1,58.7L483.6,58.7L485.1,58.6L486.6,58.6L488.0,58.6L489.5,58.6L491.0,58.5L492.5,58.5L494.0,58.5L495.5,58.5L497.0,58.4L498.5,58.4L500.0,58.4L501.5,58.3L503.0,58.3L504.5,58.3L506.0,58.2L507.5,58.2L509.0,58.2L510.5,58.2L512.0,58.1L513.5,58.1L515.0,58.1L516.5,58.0L517.9,58.0L519.4,58.0L520.9,57.9L522.4,57.9L523.9,57.9L525.4,57.9L526.9,57.8L528.4,57.8L529.9,57.8L531.4,57.7L532.9,57.7L534.4,57.7L535.9,57.7L537.4,57.6L538.9,57.6L540.4,57.6L541.9,57.5L543.4,57.5L544.9,57.5L546.4,57.5L547.9,57.4L549.4,57.4L550.9,57.4L552.4,57.4L553.9,57.3L555.4,57.3L556.9,57.3L558.4,57.3L559.9,57.3L561.4,57.2L562.8,57.2L564.3,57.2L565.8,57.2L567.3,57.2L568.8,57.2L570.3,57.2L571.8,57.1L573.3,57.1L574.8,57.1L576.3,57.1L577.8,57.1L579.3,57.1L580.8,57.1L582.3,57.1L583.8,57.1L585.3,57.1L586.8,57.1L588.3,57.1L589.9,57.1L591.4,57.1L592.9,57.1L594.4,57.1L595.9,57.1L597.4,57.1L598.9,57.1L600.4,57.1L601.9,57.1L603.4,57.1L604.9,57.1L606.4,57.1L607.9,57.2L609.4,57.2L610.9,57.2L612.4,57.2L613.9,57.2L615.4,57.3L616.9,57.3L618.4,57.3L619.9,57.3L621.4,57.4L622.9,57.4L624.5,57.4L626.0,57.5L627.5,57.5L629.0,57.6L630.5,57.6L632.0,57.7L633.5,57.7L635.0,57.8L636.5,57.9L638.0,57.9L639.5,58.0L641.0,58.1L642.5,58.1L644.0,58.2L645.5,58.3L647.0,58.4L648.5,58.5L650.0,58.6L651.5,58.7L653.0,58.8L654.5,58.9L656.0,59.1L657.5,59.2L659.0,59.3L660.5,59.4L662.0,59.6L663.4,59.7L664.9,59.9L666.4,60.1L667.9,60.2L669.4,60.4L670.9,60.6L672.3,60.8L673.8,61.0L675.3,61.2L676.8,61.4L678.3,61.6L679.7,61.8L681.2,62.1L682.7,62.3L684.1,62.5L685.6,62.8L687.1,63.1L688.5,63.3L690.0,63.6L691.4,63.9L692.9,64.2L694.3,64.5L695.8,64.8L697.2,65.1L698.7,65.5L700.1,65.8L701.6,66.2L703.0,66.5L704.5,66.9L705.9,67.3L707.3,67.6L708.8,68.0L710.2,68.4L711.6,68.8L713.0,69.2L714.5,69.7L715.9,70.1L717.3,70.5L718.7,70.9L720.2,71.4L721.6,71.8L723.0,72.3L724.4,72.8L725.8,73.2L727.2,73.7L728.6,74.2L730.0,74.7L731.4,75.2L732.9,75.7L734.3,76.2L735.7,76.7L737.1,77.2L738.5,77.7L739.9,78.3L741.2,78.8L742.6,79.3L744.0,79.9L745.4,80.4L746.8,81.0L748.2,81.5L749.6,82.1L751.0,82.6L752.4,83.2L753.8,83.8L755.2,84.4L756.5,84.9L757.9,85.5L759.3,86.1L760.7,86.7L762.1,87.3L763.4,87.9L764.8,88.5L766.2,89.1L767.6,89.7L769.0,90.3L770.3,90.9L771.7,91.5L773.1,92.2L774.5,92.8L775.8,93.4L777.2,94.0L778.6,94.7L779.9,95.3L781.3,95.9L782.7,96.6L784.1,97.2L785.4,97.8L786.8,98.5L788.2,99.1L789.5,99.7L790.9,100.4L792.3,101.0L793.6,101.7L795.0,102.3L796.4,103.0L797.7,103.6L799.1,104.2L800.5,104.9L801.8,105.5L803.2,106.2L804.6,106.8L805.9,107.5L807.3,108.1L808.7,108.7L810.0,109.4L811.4,110.0L812.8,110.7L814.2,111.3L815.5,111.9L816.9,112.5L818.3,113.2L819.6,113.8L821.0,114.4L822.4,115.0L823.8,115.6L825.2,116.2L826.5,116.8L827.9,117.4L829.3,118.0L830.7,118.5L832.1,119.1L833.5,119.7L834.8,120.2L836.2,120.8L837.6,121.3L839.0,121.9L840.4,122.4L841.8,122.9L843.2,123.4L844.6,123.9L846.0,124.4L847.4,124.9L848.8,125.4L850.2,125.8L851.7,126.3L853.1,126.7L854.5,127.2L855.9,127.6L857.3,128.0L858.8,128.4L860.2,128.8L861.6,129.2L863.1,129.6L864.5,129.9L865.9,130.3L867.4,130.6L868.8,131.0L870.3,131.3L871.7,131.6L873.2,131.9L874.6,132.2L876.1,132.4L877.5,132.7L879.0,132.9L880.4,133.2L881.9,133.4L883.4,133.6L884.8,133.8L886.3,134.0L887.8,134.2L889.2,134.4L890.7,134.5L892.2,134.6L893.6,134.8L895.1,134.9L896.6,135.0L898.1,135.1L899.5,135.2L901.0,135.2L902.5,135.3L904.0,135.3L905.4,135.3L906.9,135.3L908.4,135.3L909.9,135.3L911.4,135.3L912.9,135.3L914.3,135.2L915.8,135.1L917.3,135.0L918.8,134.9L920.3,134.8L921.8,134.7L923.2,134.6L924.7,134.4L926.2,134.3L927.7,134.1L929.2,133.9L930.7,133.7L932.1,133.5L933.6,133.2L935.1,133.0L936.6,132.7L938.1,132.4L939.6,132.2L941.0,131.9L942.5,131.5L944.0,131.2L945.5,130.9L946.9,130.5L948.4,130.2L949.9,129.8L951.3,129.4L952.8,129.0L954.3,128.6L955.7,128.1L957.2,127.7L958.7,127.2L960.1,126.8L961.6,126.3L963.0,125.8L964.5,125.3" stroke="#808080"/>
<path d="M73.5,43.5L75.0,43.6L76.5,43.7L78.0,43.8L79.5,44.0L81.0,44.1L82.5,44.2L84.0,44.3L85.4,44.4L86.9,44.5L88.4,44.6L89.9,44.8L91.4,44.9L92.9,45.0L94.4,45.1L95.9,45.2L97.4,45.3L98.9,45.4L100.4,45.5L101.9,45.6L103.4,45.7L104.9,45.9L106.4,46.0L107.8,46.1L109.3,46.2L110.8,46.3L112.3,46.4L113.8,46.5L115.3,46.6L116.8,46.7L118.3,46.8L119.8,46.9L121.3,47.0L122.8,47.1L124.3,47.2L125.8,47.3L127.3,47.4L128.8,47.5L130.3,47.6L131.8,47.7L133.3,47.9L134.8,48.0L136.2,48.1L137.7,48.2L139.2,48.3L140.7,48.4L142.2,48.5L143.7,48.6L145.2,48.7L146.7,48.8L148.2,48.9L149.7,48.9L151.2,49.0L152.7,49.1L154.2,49.2L155.7,49.3L157.2,49.4L158.7,49.5L160.2,49.6L161.7,49.7L163.2,49.8L164.7,49.9L166.2,50.0L167.7,50.1L169.2,50.2L170.6,50.3L172.1,50.4L173.6,50.5L175.1,50.6L176.6,50.6L178.1,50.7L179.6,50.8L181.1,50.9L182.6,51.0L184.1,51.1L185.6,51.2L187.1,51.3L188.6,51.4L190.1,51.4L191.6,51.5L193.1,51.6L194.6,51.7L196.1,51.8L197.6,51.9L199.1,52.0L200.6,52.0L202.1,52.1L203.6,52.2L205.1,52.3L206.6,52.4L208.1,52.5L209.6,52.5L211.1,52.6L212.6,52.7L214.0,52.8L215.5,52.9L217.0,52.9L218.5,53.0L220.0,53.1L221.5,53.2L223.0,53.3L224.5,53.3L226.0,53.4L227.5,53.5L229.0,53.6L230.5,53.6L232.0,53.7L233.5,53.8L235.0,53.9L236.5,53.9L238.0,54.0L239.5,54.1L241.0,54.1L242.5,54.2L244.0,54.3L245.5,54.4L247.0,54.4L248.5,54.5L250.0,54.6L251.5,54.6L253.0,54.7L254.5,54.8L256.0,54.8L257.5,54.9L259.0,55.0L260.5,55.0L262.0,55.1L263.5,55.2L265.0,55.2L266.5,55.3L268.0,55.4L269.5,55.4L271.0,55.5L272.5,55.5L274.0,55.6L275.4,55.7L276.9,55.7L278.4,55.8L279.9,55.8L281.4,55.9L282.9,56.0L284.4,56.0L285.9,56.1L287.4,56.1L288.9,56.2L290.4,56.2L291.9,56.3L293.4,56.3L294.9,56.4L296.4,56.4L297.9,56.5L299.4,56.6L300.9,56.6L302.4,56.7L303.9,56.7L305.4,56.8L306.9,56.8L308.4,56.9L309.9,56.9L311.4,57.0L312.9,57.0L314.4,57.0L315.9,57.1L317.4,57.1L318.9,57.2L320.4,57.2L321.9,57.3L323.4,57.3L324.9,57.4L326.4,57.4L327.9,57.4L329.4,57.5L330.9,57.5L332.4,57.6L333.9,57.6L335.4,57.6L336.9,57.7L338.4,57.7L339.9,57.7L341.4,57.8L342.9,57.8L344.4,57.9L345.9,57.9L347.4,57.9L348.9,58.0L350.4,58.0L351.9,58.0L353.4,58.1L354.8,58.1L356.3,58.1L357.8,58.1L359.3,58.2L360.8,58.2L362.3,58.2L363.8,58.3L365.3,58.3L366.8,58.3L368.3,58.3L369.8,58.4L371.3,58.4L372.8,58.4L374.3,58.4L375.8,58.5L377.3,58.5L378.8,58.5L380.3,58.5L381.8,58.5L383.3,58.6L384.8,58.6L386.3,58.6L387.8,58.6L389.3,58.6L390.8,58.6L392.3,58.7L393.8,58.7L395.3,58.7L396.8,58.7L398.3,58.7L399.8,58.7L401.3,58.7L402.8,58.8L404.3,58.8L405.8,58.8L407.3,58.8L408.8,58.8L410.3,58.8L411.8,58.8L413.3,58.8L414.8,58.8L416.3,58.8L417.8,58.8L419.3,58.8L420.8,58.8L422.3,58.8L423.7,58.8L425.2,58.8L426.7,58.8L428.2,58.8L429.7,58.8L431.2,58.8L432.7,58.8L434.2,58.8L435.7,58.8L437.2,58.8L438.7,58.8L440.2,58.8L441.7,58.8L443.2,58.8L444.7,58.8L446.2,58.8L447.7,58.8L449.2,58.8L450.7,58.8L452.2,58.7L453.7,58.7L455.2,58.7L456.7,58.7L458.2,58.7L459.7,58.7L461.2,58.7L462.7,58.7L464.2,58.6L465.7,58.6L467.2,58.6L468.7,58.6L470.2,58.6L471.7,58.5L473.1,58.5L474.6,58.5L476.1,58.5L477.6,58.5L479.1,58.4L480.6,58.4L482.1,58.4L483.6,58.4L485.1,58.3L486.6,58.3L488.1,58.3L489.6,58.3L491.1,58.2L492.6,58.2L494.1,58.2L495.6,58.1L497.1,58.1L498.6,58.1L500.1,58.1L501.6,58.0L503.1,58.0L504.6,58.0L506.1,57.9L507.6,57.9L509.1,57.9L510.6,57.8L512.1,57.8L513.5,57.8L515.0,57.7L516.5,57.7L518.0,57.7L519.5,57.7L521.0,57.6L522.5,57.6L524.0,57.6L525.5,57.5L527.0,57.5L528.5,57.5L530.0,57.4L531.5,57.4L533.0,57.4L534.5,57.3L536.0,57.3L537.5,57.3L539.0,57.3L540.5,57.2L542.0,57.2L543.5,57.2L545.0,57.1L546.5,57.1L548.0,57.1L549.5,57.1L551.0,57.0L552.5,57.0L554.0,57.0L555.5,57.0L557.0,56.9L558.5,56.9L560.0,56.9L561.5,56.9L563.0,56.9L564.5,56.8L566.0,56.8L567.5,56.8L569.0,56.8L570.5,56.8L572.0,56.7L573.5,56.7L575.0,56.7L576.5,56.7L578.0,56.7L579.5,56.7L581.0,56.7L582.5,56.7L584.0,56.6L585.5,56.6L587.0,56.6L588.5,56.6L590.0,56.6L591.5,56.6L593.0,56.6L594.5,56.6L596.0,56.6L597.5,56.6L599.0,56.6L600.5,56.6L602.0,56.6L603.5,56.6L605.0,56.6L606.5,56.6L608.0,56.7L609.5,56.7L611.0,56.7L612.5,56.7L614.0,56.7L615.5,56.7L617.0,56.7L618.5,56.8L620.0,56.8L621.6,56.8L623.1,56.8L624.6,56.9L626.1,56.9L627.6,56.9L629.1,57.0L630.6,57.0L632.1,57.0L633.6,57.1L635.1,57.1L636.6,57.2L638.1,57.2L639.6,57.3L641.1,57.4L642.6,57.4L644.1,57.5L645.6,57.6L647.1,57.7L648.6,57.7L650.1,57.8L651.6,57.9L653.1,58.0L654.6,58.1L656.1,58.2L657.6,58.3L659.1,58.5L660.6,58.6L662.1,58.7L663.5,58.8L665.0,59.0L666.5,59.1L668.0,59.3L669.5,59.4L671.0,59.6L672.5,59.8L673.9,59.9L675.4,60.1L676.9,60.3L678.4,60.5L679.8,60.7L681.3,60.9L682.8,61.1L684.3,61.3L685.7,61.6L687.2,61.8L688.7,62.1L690.1,62.3L691.6,62.6L693.1,62.9L694.5,63.1L696.0,63.4L697.4,63.7L698.9,64.0L700.3,64.3L701.8,64.6L703.2,65.0L704.7,65.3L706.1,65.6L707.5,66.0L709.0,66.3L710.4,66.7L711.9,67.1L713.3,67.4L714.7,67.8L716.2,68.2L717.6,68.6L719.0,69.0L720.5,69.4L721.9,69.8L723.3,70.3L724.7,70.7L726.2,71.1L727.6,71.6L729.0,72.0L730.4,72.5L731.8,72.9L733.2,73.4L734.7,73.8L736.1,74.3L737.5,74.8L738.9,75.3L740.3,75.8L741.7,76.2L743.1,76.7L744.5,77.2L745.9,77.8L747.3,78.3L748.7,78.8L750.1,79.3L751.5,79.8L752.9,80.4L754.3,80.9L755.7,81.4L757.1,82.0L758.5,82.5L759.9,83.1L761.3,83.6L762.7,84.2L764.1,84.7L765.5,85.3L766.9,85.8L768.3,86.4L769.7,87.0L771.1,87.6L772.5,88.1L773.8,88.7L775.2,89.3L776.6,89.9L778.0,90.5L779.4,91.1L780.8,91.6L782.2,92.2L783.5,92.8L784.9,93.4L786.3,94.0L787.7,94.6L789.1,95.2L790.5,95.8L791.8,96.4L793.2,97.1L794.6,97.7L796.0,98.3L797.4,98.9L798.8,99.5L800.1,100.1L801.5,100.7L802.9,101.3L804.3,102.0L805.7,102.6L807.0,103.2L808.4,103.8L809.8,104.4L811.2,105.0L812.6,105.6L813.9,106.2L815.3,106.8L816.7,107.4L818.1,108.0L819.5,108.6L820.9,109.2L822.2,109.8L823.6,110.4L825.0,111.0L826.4,111.6L827.8,112.2L829.2,112.8L830.6,113.3L832.0,113.9L833.4,114.5L834.8,115.0L836.1,115.6L837.5,116.1L838.9,116.7L840.3,117.2L841.7,117.8L843.1,118.3L844.5,118.8L845.9,119.3L847.4,119.8L848.8,120.3L850.2,120.8L851.6,121.3L853.0,121.8L854.4,122.3L855.8,122.7L857.2,123.2L858.7,123.7L860.1,124.1L861.5,124.5L862.9,125.0L864.4,125.4L865.8,125.8L867.2,126.2L868.7,126.6L870.1,127.0L871.5,127.4L873.0,127.7L874.4,128.1L875.8,128.4L877.3,128.8L878.7,129.1L880.2,129.4L881.6,129.7L883.1,130.0L884.5,130.3L886.0,130.6L887.4,130.8L888.9,131.1L890.3,131.4L891.8,131.6L893.2,131.8L894.7,132.0L896.2,132.2L897.6,132.4L899.1,132.6L900.5,132.8L902.0,132.9L903.5,133.1L904.9,133.2L906.4,133.3L907.9,133.4L909.4,133.5L910.8,133.6L912.3,133.7L913.8,133.7L915.3,133.7L916.7,133.8L918.2,133.8L919.7,133.8L921.2,133.8L922.7,133.8L924.1,133.7L925.6,133.7L927.1,133.6L928.6,133.5L930.1,133.4L931.6,133.3L933.1,133.2L934.5,133.1L936.0,132.9L937.5,132.7L939.0,132.5L940.5,132.3L942.0,132.1L943.5,131.9L945.0,131.7L946.5,131.4L948.0,131.1L949.5,130.8L951.0,130.5L952.5,130.2L954.0,129.8L955.5,129.5L957.0,129.1L958.5,128.7L960.0,128.3L961.5,127.9L963.0,127.4L964.5,127.0" stroke="#bf00bf"/>
<path d="M73.5,86.4L75.0,86.5L76.5,86.5L78.0,86.6L79.5,86.7L81.0,86.8L82.5,86.8L84.0,86.9L85.5,87.0L87.0,87.0L88.4,87.1L89.9,87.2L91.4,87.3L92.9,87.3L94.4,87.4L95.9,87.5L97.4,87.5L98.9,87.6L100.4,87.7L101.9,87.7L103.4,87.8L104.9,87.9L106.4,88.0L107.9,88.0L109.4,88.1L110.9,88.2L112.4,88.3L113.9,88.3L115.4,88.4L116.9,88.5L118.4,88.5L119.9,88.6L121.4,88.7L122.9,88.8L124.4,88.8L125.8,88.9L127.3,89.0L128.8,89.1L130.3,89.1L131.8,89.2L133.3,89.3L134.8,89.3L136.3,89.4L137.8,89.5L139.3,89.6L140.8,89.6L142.3,89.7L143.8,89.8L145.3,89.9L146.8,89.9L148.3,90.0L149.8,90.1L151.3,90.2L152.8,90.2L154.3,90.3L155.8,90.4L157.3,90.4L158.8,90.5L160.3,90.6L161.8,90.7L163.3,90.7L164.8,90.8L166.3,90.9L167.8,91.0L169.3,91.0L170.8,91.1L172.3,91.2L173.8,91.3L175.3,91.3L176.7,91.4L178.2,91.5L179.7,91.5L181.2,91.6L182.7,91.7L184.2,91.8L185.7,91.8L187.2,91.9L188.7,92.0L190.2,92.1L191.7,92.1L193.2,92.2L194.7,92.3L196.2,92.3L197.7,92.4L199.2,92.5L200.7,92.6L202.2,92.6L203.7,92.7L205.2,92.8L206.7,92.8L208.2,92.9L209.7,93.0L211.2,93.1L212.7,93.1L214.2,93.2L215.7,93.3L217.2,93.3L218.7,93.4L220.2,93.5L221.7,93.6L223.2,93.6L224.7,93.7L226.2,93.8L227.7,93.8L229.2,93.9L230.7,94.0L232.2,94.0L233.7,94.1L235.2,94.2L236.7,94.2L238.2,94.3L239.7,94.4L241.2,94.4L242.7,94.5L244.2,94.6L245.7,94.6L247.2,94.7L248.7,94.8L250.2,94.8L251.7,94.9L253.1,95.0L254.6,95.0L256.1,95.1L257.6,95.2L259.1,95.2L260.6,95.3L262.1,95.4L263.6,95.4L265.1,95.5L266.6,95.6L268.1,95.6L269.6,95.7L271.1,95.7L272.6,95.8L274.1,95.9L275.6,95.9L277.1,96.0L278.6,96.0L280.1,96.1L281.6,96.2L283.1,96.2L284.6,96.3L286.1,96.4L287.6,96.4L289.1,96.5L290.6,96.5L292.1,96.6L293.6,96.6L295.1,96.7L296.6,96.8L298.1,96.8L299.6,96.9L301.1,96.9L302.6,97.0L304.1,97.0L305.6,97.1L307.1,97.2L308.6,97.2L310.1,97.3L311.6,97.3L313.1,97.4L314.6,97.4L316.1,97.5L317.6,97.5L319.1,97.6L320.6,97.6L322.0,97.7L323.5,97.7L325.0,97.8L326.5,97.8L328.0,97.9L329.5,97.9L331.0,98.0L332.5,98.0L334.0,98.1L335.5,98.1L337.0,98.2L338.5,98.2L340.0,98.3L341.5,98.3L343.0,98.4L344.5,98.4L346.0,98.4L347.5,98.5L349.0,98.5L350.5,98.6L352.0,98.6L353.5,98.7L355.0,98.7L356.5,98.7L358.0,98.8L359.5,98.8L361.0,98.8L362.5,98.9L364.0,98.9L365.5,99.0L367.0,99.0L368.5,99.0L369.9,99.0L371.4,99.1L372.9,99.1L374.4,99.1L375.9,99.2L377.4,99.2L378.9,99.2L380.4,99.2L381.9,99.3L383.4,99.3L384.9,99.3L386.4,99.3L387.9,99.3L389.4,99.4L390.9,99.4L392.4,99.4L393.9,99.4L395.4,99.4L396.9,99.4L398.4,99.4L399.9,99.4L401.4,99.4L402.9,99.4L404.4,99.4L405.9,99.4L407.3,99.4L408.8,99.4L410.3,99.4L411.8,99.4L413.3,99.4L414.8,99.4L416.3,99.4L417.8,99.4L419.3,99.4L420.8,99.3L422.3,99.3L423.8,99.3L425.3,99.3L426.8,99.2L428.3,99.2L429.8,99.2L431.3,99.2L432.8,99.1L434.3,99.1L435.8,99.1L437.3,99.0L438.8,99.0L440.2,98.9L441.7,98.9L443.2,98.8L444.7,98.8L446.2,98.7L447.7,98.7L449.2,98.6L450.7,98.6L452.2,98.5L453.7,98.4L455.2,98.4L456.7,98.3L458.2,98.2L459.7,98.1L461.2,98.1L462.7,98.0L464.2,97.9L465.7,97.8L467.2,97.7L468.7,97.6L470.2,97.5L471.7,97.4L473.1,97.3L474.6,97.2L476.1,97.1L477.6,97.0L479.1,96.9L480.6,96.8L482.1,96.7L483.6,96.6L485.1,96.5L486.6,96.3L488.1,96.2L489.6,96.1L491.1,96.0L492.6,95.8L494.1,95.7L495.6,95.6L497.1,95.4L498.6,95.3L500.1,95.2L501.6,95.0L503.1,94.9L504.5,94.7L506.0,94.6L507.5,94.5L509.0,94.3L510.5,94.2L512.0,94.0L513.5,93.9L515.0,93.8L516.5,93.6L518.0,93.5L519.5,93.3L521.0,93.2L522.5,93.1L524.0,92.9L525.5,92.8L527.0,92.7L528.5,92.5L530.0,92.4L531.5,92.3L533.0,92.1L534.5,92.0L536.0,91.9L537.4,91.8L538.9,91.6L540.4,91.5L541.9,91.4L543.4,91.3L544.9,91.2L546.4,91.1L547.9,91.0L549.4,90.9L550.9,90.8L552.4,90.7L553.9,90.6L555.4,90.5L556.9,90.4L558.4,90.3L559.9,90.2L561.4,90.2L562.9,90.1L564.4,90.0L565.9,90.0L567.4,89.9L568.9,89.9L570.4,89.8L571.9,89.8L573.4,89.7L574.8,89.7L576.3,89.7L577.8,89.6L579.3,89.6L580.8,89.6L582.3,89.6L583.8,89.6L585.3,89.6L586.8,89.6L588.3,89.7L589.8,89.7L591.3,89.7L592.8,89.7L594.3,89.8L595.8,89.8L597.3,89.9L598.8,90.0L600.3,90.0L601.8,90.1L603.3,90.2L604.8,90.3L606.3,90.4L607.8,90.5L609.3,90.6L610.8,90.7L612.3,90.8L613.7,90.9L615.2,91.1L616.7,91.2L618.2,91.4L619.7,91.5L621.2,91.7L622.7,91.8L624.2,92.0L625.7,92.2L627.2,92.4L628.7,92.6L630.1,92.8L631.6,93.0L633.1,93.2L634.6,93.4L636.1,93.6L637.6,93.9L639.0,94.1L640.5,94.3L642.0,94.6L643.5,94.9L645.0,95.1L646.4,95.4L647.9,95.7L649.4,95.9L650.9,96.2L652.3,96.5L653.8,96.8L655.3,97.1L656.7,97.5L658.2,97.8L659.7,98.1L661.1,98.4L662.6,98.8L664.0,99.1L665.5,99.5L667.0,99.9L668.4,100.2L669.9,100.6L671.3,101.0L672.8,101.4L674.2,101.8L675.7,102.2L677.1,102.6L678.5,103.0L680.0,103.4L681.4,103.8L682.9,104.3L684.3,104.7L685.7,105.1L687.1,105.6L688.6,106.0L690.0,106.5L691.4,107.0L692.8,107.5L694.3,108.0L695.7,108.4L697.1,108.9L698.5,109.4L699.9,110.0L701.3,110.5L702.7,111.0L704.1,111.5L705.5,112.1L706.9,112.6L708.3,113.2L709.7,113.7L711.1,114.3L712.5,114.9L713.9,115.4L715.3,116.0L716.7,116.6L718.0,117.2L719.4,117.8L720.8,118.4L722.2,119.0L723.5,119.6L724.9,120.2L726.3,120.8L727.6,121.5L729.0,122.1L730.4,122.7L731.7,123.4L733.1,124.0L734.4,124.6L735.8,125.3L737.2,125.9L738.5,126.6L739.9,127.2L741.2,127.8L742.6,128.5L743.9,129.1L745.3,129.8L746.7,130.4L748.0,131.1L749.4,131.7L750.7,132.4L752.1,133.0L753.4,133.7L754.8,134.3L756.1,134.9L757.5,135.6L758.9,136.2L760.2,136.9L761.6,137.5L762.9,138.1L764.3,138.7L765.7,139.4L767.0,140.0L768.4,140.6L769.8,141.2L771.1,141.8L772.5,142.4L773.9,143.0L775.3,143.6L776.6,144.2L778.0,144.8L779.4,145.4L780.8,145.9L782.2,146.5L783.5,147.1L784.9,147.6L786.3,148.2L787.7,148.7L789.1,149.2L790.5,149.7L791.9,150.3L793.3,150.8L794.7,151.3L796.2,151.7L797.6,152.2L799.0,152.7L800.4,153.2L801.8,153.6L803.3,154.0L804.7,154.5L806.1,154.9L807.6,155.3L809.0,155.7L810.5,156.1L811.9,156.5L813.3,156.9L814.8,157.2L816.2,157.6L817.7,157.9L819.2,158.2L820.6,158.6L822.1,158.9L823.5,159.2L825.0,159.5L826.5,159.7L827.9,160.0L829.4,160.2L830.9,160.5L832.3,160.7L833.8,160.9L835.3,161.1L836.7,161.3L838.2,161.5L839.7,161.7L841.2,161.8L842.7,162.0L844.1,162.1L845.6,162.2L847.1,162.3L848.6,162.4L850.0,162.5L851.5,162.5L853.0,162.6L854.5,162.6L856.0,162.6L857.4,162.6L858.9,162.6L860.4,162.6L861.9,162.5L863.4,162.5L864.8,162.4L866.3,162.3L867.8,162.2L869.3,162.1L870.8,162.0L872.2,161.9L873.7,161.7L875.2,161.5L876.7,161.3L878.1,161.1L879.6,160.9L881.1,160.7L882.5,160.4L884.0,160.1L885.5,159.8L886.9,159.5L888.4,159.2L889.9,158.9L891.3,158.5L892.8,158.2L894.2,157.8L895.7,157.4L897.2,157.0L898.6,156.6L900.1,156.2L901.5,155.8L903.0,155.3L904.4,154.9L905.9,154.4L907.3,154.0L908.7,153.5L910.2,153.0L911.6,152.5L913.1,152.0L914.5,151.5L916.0,151.0L917.4,150.5L918.8,150.0L920.3,149.5L921.7,149.0L923.2,148.5L924.6,148.0L926.0,147.4L927.5,146.9L928.9,146.4L930.3,145.9L931.7,145.4L933.2,144.9L934.6,144.3L936.0,143.8L937.5,143.3L938.9,142.8L940.3,142.3L941.7,141.8L943.2,141.4L944.6,140.9L946.0,140.4L947.4,139.9L948.9,139.5L950.3,139.0L951.7,138.6L953.1,138.2L954.6,137.7L956.0,137.3L957.4,136.9L958.8,136.5L960.2,136.2L961.7,135.8L963.1,135.4L964.5,135.1" stroke="#ffa700" stroke-dasharray="8.2 7.8" stroke-dashoffset="1" stroke-linecap="butt"/>
</g>
<g stroke="#8a8a8a" stroke-width="2" fill="none"><rect x="73.5" y="9.7" width="891.5" height="413.3"/></g>
<g stroke="#555" stroke-width="1.4"><line x1="73.50" y1="423.00" x2="73.50" y2="414.00"/><line x1="73.50" y1="9.70" x2="73.50" y2="18.70"/><line x1="184.94" y1="423.00" x2="184.94" y2="414.00"/><line x1="184.94" y1="9.70" x2="184.94" y2="18.70"/><line x1="296.38" y1="423.00" x2="296.38" y2="414.00"/><line x1="296.38" y1="9.70" x2="296.38" y2="18.70"/><line x1="407.81" y1="423.00" x2="407.81" y2="414.00"/><line x1="407.81" y1="9.70" x2="407.81" y2="18.70"/><line x1="519.25" y1="423.00" x2="519.25" y2="414.00"/><line x1="519.25" y1="9.70" x2="519.25" y2="18.70"/><line x1="630.69" y1="423.00" x2="630.69" y2="414.00"/><line x1="630.69" y1="9.70" x2="630.69" y2="18.70"/><line x1="742.12" y1="423.00" x2="742.12" y2="414.00"/><line x1="742.12" y1="9.70" x2="742.12" y2="18.70"/><line x1="853.56" y1="423.00" x2="853.56" y2="414.00"/><line x1="853.56" y1="9.70" x2="853.56" y2="18.70"/><line x1="965.00" y1="423.00" x2="965.00" y2="414.00"/><line x1="965.00" y1="9.70" x2="965.00" y2="18.70"/><line x1="73.50" y1="9.70" x2="82.50" y2="9.70"/><line x1="965.00" y1="9.70" x2="956.00" y2="9.70"/><line x1="73.50" y1="113.03" x2="82.50" y2="113.03"/><line x1="965.00" y1="113.03" x2="956.00" y2="113.03"/><line x1="73.50" y1="216.35" x2="82.50" y2="216.35"/><line x1="965.00" y1="216.35" x2="956.00" y2="216.35"/><line x1="73.50" y1="319.68" x2="82.50" y2="319.68"/><line x1="965.00" y1="319.68" x2="956.00" y2="319.68"/><line x1="73.50" y1="423.00" x2="82.50" y2="423.00"/><line x1="965.00" y1="423.00" x2="956.00" y2="423.00"/></g>
<g font-size="24px" transform=""><text x="46.80" y="454.00" font-size="24.00px" xml:space="preserve" transform="matrix(1,0,0,1.0400,0,-18.160)"><tspan class="h">1</tspan>5<tspan class="h">1</tspan>0</text><path class="one" d="M763,0L583,0L583,1147Q518,1085 412,1023Q306,961 223,930L223,1104Q374,1175 487,1276Q600,1377 647,1472L763,1472Z" transform="translate(46.80,454.00) scale(0.01172,-0.01172)"/><path class="one" d="M763,0L583,0L583,1147Q518,1085 412,1023Q306,961 223,930L223,1104Q374,1175 487,1276Q600,1377 647,1472L763,1472Z" transform="translate(73.50,454.00) scale(0.01172,-0.01172)"/><text x="158.24" y="454.00" font-size="24.00px" xml:space="preserve" transform="matrix(1,0,0,1.0400,0,-18.160)"><tspan class="h">1</tspan>520</text><path class="one" d="M763,0L583,0L583,1147Q518,1085 412,1023Q306,961 223,930L223,1104Q374,1175 487,1276Q600,1377 647,1472L763,1472Z" transform="translate(158.24,454.00) scale(0.01172,-0.01172)"/><text x="269.68" y="454.00" font-size="24.00px" xml:space="preserve" transform="matrix(1,0,0,1.0400,0,-18.160)"><tspan class="h">1</tspan>530</text><path class="one" d="M763,0L583,0L583,1147Q518,1085 412,1023Q306,961 223,930L223,1104Q374,1175 487,1276Q600,1377 647,1472L763,1472Z" transform="translate(269.68,454.00) scale(0.01172,-0.01172)"/><text x="381.12" y="454.00" font-size="24.00px" xml:space="preserve" transform="matrix(1,0,0,1.0400,0,-18.160)"><tspan class="h">1</tspan>540</text><path class="one" d="M763,0L583,0L583,1147Q518,1085 412,1023Q306,961 223,930L223,1104Q374,1175 487,1276Q600,1377 647,1472L763,1472Z" transform="translate(381.12,454.00) scale(0.01172,-0.01172)"/><text x="492.55" y="454.00" font-size="24.00px" xml:space="preserve" transform="matrix(1,0,0,1.0400,0,-18.160)"><tspan class="h">1</tspan>550</text><path class="one" d="M763,0L583,0L583,1147Q518,1085 412,1023Q306,961 223,930L223,1104Q374,1175 487,1276Q600,1377 647,1472L763,1472Z" transform="translate(492.55,454.00) scale(0.01172,-0.01172)"/><text x="603.99" y="454.00" font-size="24.00px" xml:space="preserve" transform="matrix(1,0,0,1.0400,0,-18.160)"><tspan class="h">1</tspan>560</text><path class="one" d="M763,0L583,0L583,1147Q518,1085 412,1023Q306,961 223,930L223,1104Q374,1175 487,1276Q600,1377 647,1472L763,1472Z" transform="translate(603.99,454.00) scale(0.01172,-0.01172)"/><text x="715.43" y="454.00" font-size="24.00px" xml:space="preserve" transform="matrix(1,0,0,1.0400,0,-18.160)"><tspan class="h">1</tspan>570</text><path class="one" d="M763,0L583,0L583,1147Q518,1085 412,1023Q306,961 223,930L223,1104Q374,1175 487,1276Q600,1377 647,1472L763,1472Z" transform="translate(715.43,454.00) scale(0.01172,-0.01172)"/><text x="826.87" y="454.00" font-size="24.00px" xml:space="preserve" transform="matrix(1,0,0,1.0400,0,-18.160)"><tspan class="h">1</tspan>580</text><path class="one" d="M763,0L583,0L583,1147Q518,1085 412,1023Q306,961 223,930L223,1104Q374,1175 487,1276Q600,1377 647,1472L763,1472Z" transform="translate(826.87,454.00) scale(0.01172,-0.01172)"/><text x="938.30" y="454.00" font-size="24.00px" xml:space="preserve" transform="matrix(1,0,0,1.0400,0,-18.160)"><tspan class="h">1</tspan>590</text><path class="one" d="M763,0L583,0L583,1147Q518,1085 412,1023Q306,961 223,930L223,1104Q374,1175 487,1276Q600,1377 647,1472L763,1472Z" transform="translate(938.30,454.00) scale(0.01172,-0.01172)"/></g>
<g font-size="24px"><text x="32.31" y="19.60" font-size="24.00px" xml:space="preserve" transform="matrix(1,0,0,1.0200,0,-0.392)">-<tspan class="h">1</tspan>0</text><path class="one" d="M763,0L583,0L583,1147Q518,1085 412,1023Q306,961 223,930L223,1104Q374,1175 487,1276Q600,1377 647,1472L763,1472Z" transform="translate(40.30,19.60) scale(0.01172,-0.01172)"/><text x="32.31" y="122.93" font-size="24.00px" xml:space="preserve" transform="matrix(1,0,0,1.0200,0,-2.459)">-<tspan class="h">1</tspan>5</text><path class="one" d="M763,0L583,0L583,1147Q518,1085 412,1023Q306,961 223,930L223,1104Q374,1175 487,1276Q600,1377 647,1472L763,1472Z" transform="translate(40.30,122.93) scale(0.01172,-0.01172)"/><text x="32.31" y="226.25" font-size="24.00px" xml:space="preserve" transform="matrix(1,0,0,1.0200,0,-4.525)">-20</text><text x="32.31" y="329.57" font-size="24.00px" xml:space="preserve" transform="matrix(1,0,0,1.0200,0,-6.592)">-25</text><text x="32.31" y="432.90" font-size="24.00px" xml:space="preserve" transform="matrix(1,0,0,1.0200,0,-8.658)">-30</text></g>
<text x="524.2" y="480" text-anchor="middle" font-size="26.3px">Wavelength (nm)</text>
<text transform="translate(20,220.5) rotate(-90)" text-anchor="middle" font-size="26.3px">Power (dB)</text>
<g font-size="22px"><rect x="79.2" y="150.3" width="224.3" height="248.3" fill="#fff" stroke="#8a8a8a" stroke-width="1.6"/><line x1="86" y1="166.2" x2="128.3" y2="166.2" stroke="#1a2a8a" stroke-width="2.6"/><text x="131.00" y="174.30" font-size="22.00px" xml:space="preserve" transform="matrix(1,0,0,1.0400,0,-6.972)">BEAM OFF</text><line x1="86" y1="193.4" x2="128.3" y2="193.4" stroke="#ff0000" stroke-width="2.6"/><text x="131.00" y="201.46" font-size="22.00px" xml:space="preserve" transform="matrix(1,0,0,1.0400,0,-8.058)">0.<tspan class="h">1</tspan> MGy</text><path class="one" d="M763,0L583,0L583,1147Q518,1085 412,1023Q306,961 223,930L223,1104Q374,1175 487,1276Q600,1377 647,1472L763,1472Z" transform="translate(149.35,201.46) scale(0.01074,-0.01074)"/><line x1="86" y1="220.5" x2="128.3" y2="220.5" stroke="#ff00ff" stroke-width="2.6"/><text x="131.00" y="228.62" font-size="22.00px" xml:space="preserve" transform="matrix(1,0,0,1.0400,0,-9.145)">0.3 MGy</text><line x1="86" y1="247.7" x2="128.3" y2="247.7" stroke="#00a2ff" stroke-width="2.6"/><text x="131.00" y="255.78" font-size="22.00px" xml:space="preserve" transform="matrix(1,0,0,1.0400,0,-10.231)">0.5 MGy</text><line x1="86" y1="274.8" x2="128.3" y2="274.8" stroke="#00ffff" stroke-width="2.6"/><text x="131.00" y="282.94" font-size="22.00px" xml:space="preserve" transform="matrix(1,0,0,1.0400,0,-11.318)">0.7 MGy</text><line x1="86" y1="302.0" x2="128.3" y2="302.0" stroke="#007f00" stroke-width="2.6"/><text x="131.00" y="310.10" font-size="22.00px" xml:space="preserve" transform="matrix(1,0,0,1.0400,0,-12.404)">0.9 MGy</text><line x1="86" y1="329.2" x2="128.3" y2="329.2" stroke="#808080" stroke-width="2.6"/><text x="131.00" y="337.26" font-size="22.00px" xml:space="preserve" transform="matrix(1,0,0,1.0400,0,-13.490)"><tspan class="h">1</tspan> MGy</text><path class="one" d="M763,0L583,0L583,1147Q518,1085 412,1023Q306,961 223,930L223,1104Q374,1175 487,1276Q600,1377 647,1472L763,1472Z" transform="translate(131.00,337.26) scale(0.01074,-0.01074)"/><line x1="86" y1="356.3" x2="128.3" y2="356.3" stroke="#bf00bf" stroke-width="2.6"/><text x="131.00" y="364.42" font-size="22.00px" xml:space="preserve" transform="matrix(1,0,0,1.0400,0,-14.577)"><tspan class="h">1</tspan>.<tspan class="h">1</tspan>6 MGy</text><path class="one" d="M763,0L583,0L583,1147Q518,1085 412,1023Q306,961 223,930L223,1104Q374,1175 487,1276Q600,1377 647,1472L763,1472Z" transform="translate(131.00,364.42) scale(0.01074,-0.01074)"/><path class="one" d="M763,0L583,0L583,1147Q518,1085 412,1023Q306,961 223,930L223,1104Q374,1175 487,1276Q600,1377 647,1472L763,1472Z" transform="translate(149.35,364.42) scale(0.01074,-0.01074)"/><line x1="86" y1="383.5" x2="128.3" y2="383.5" stroke="#ffa700" stroke-width="2.6" stroke-dasharray="9 7.7"/><text x="131.00" y="391.58" font-size="22.00px" xml:space="preserve" transform="matrix(1,0,0,1.0400,0,-15.663)"> end of relaxation</text></g>
</svg>
</body></html>
